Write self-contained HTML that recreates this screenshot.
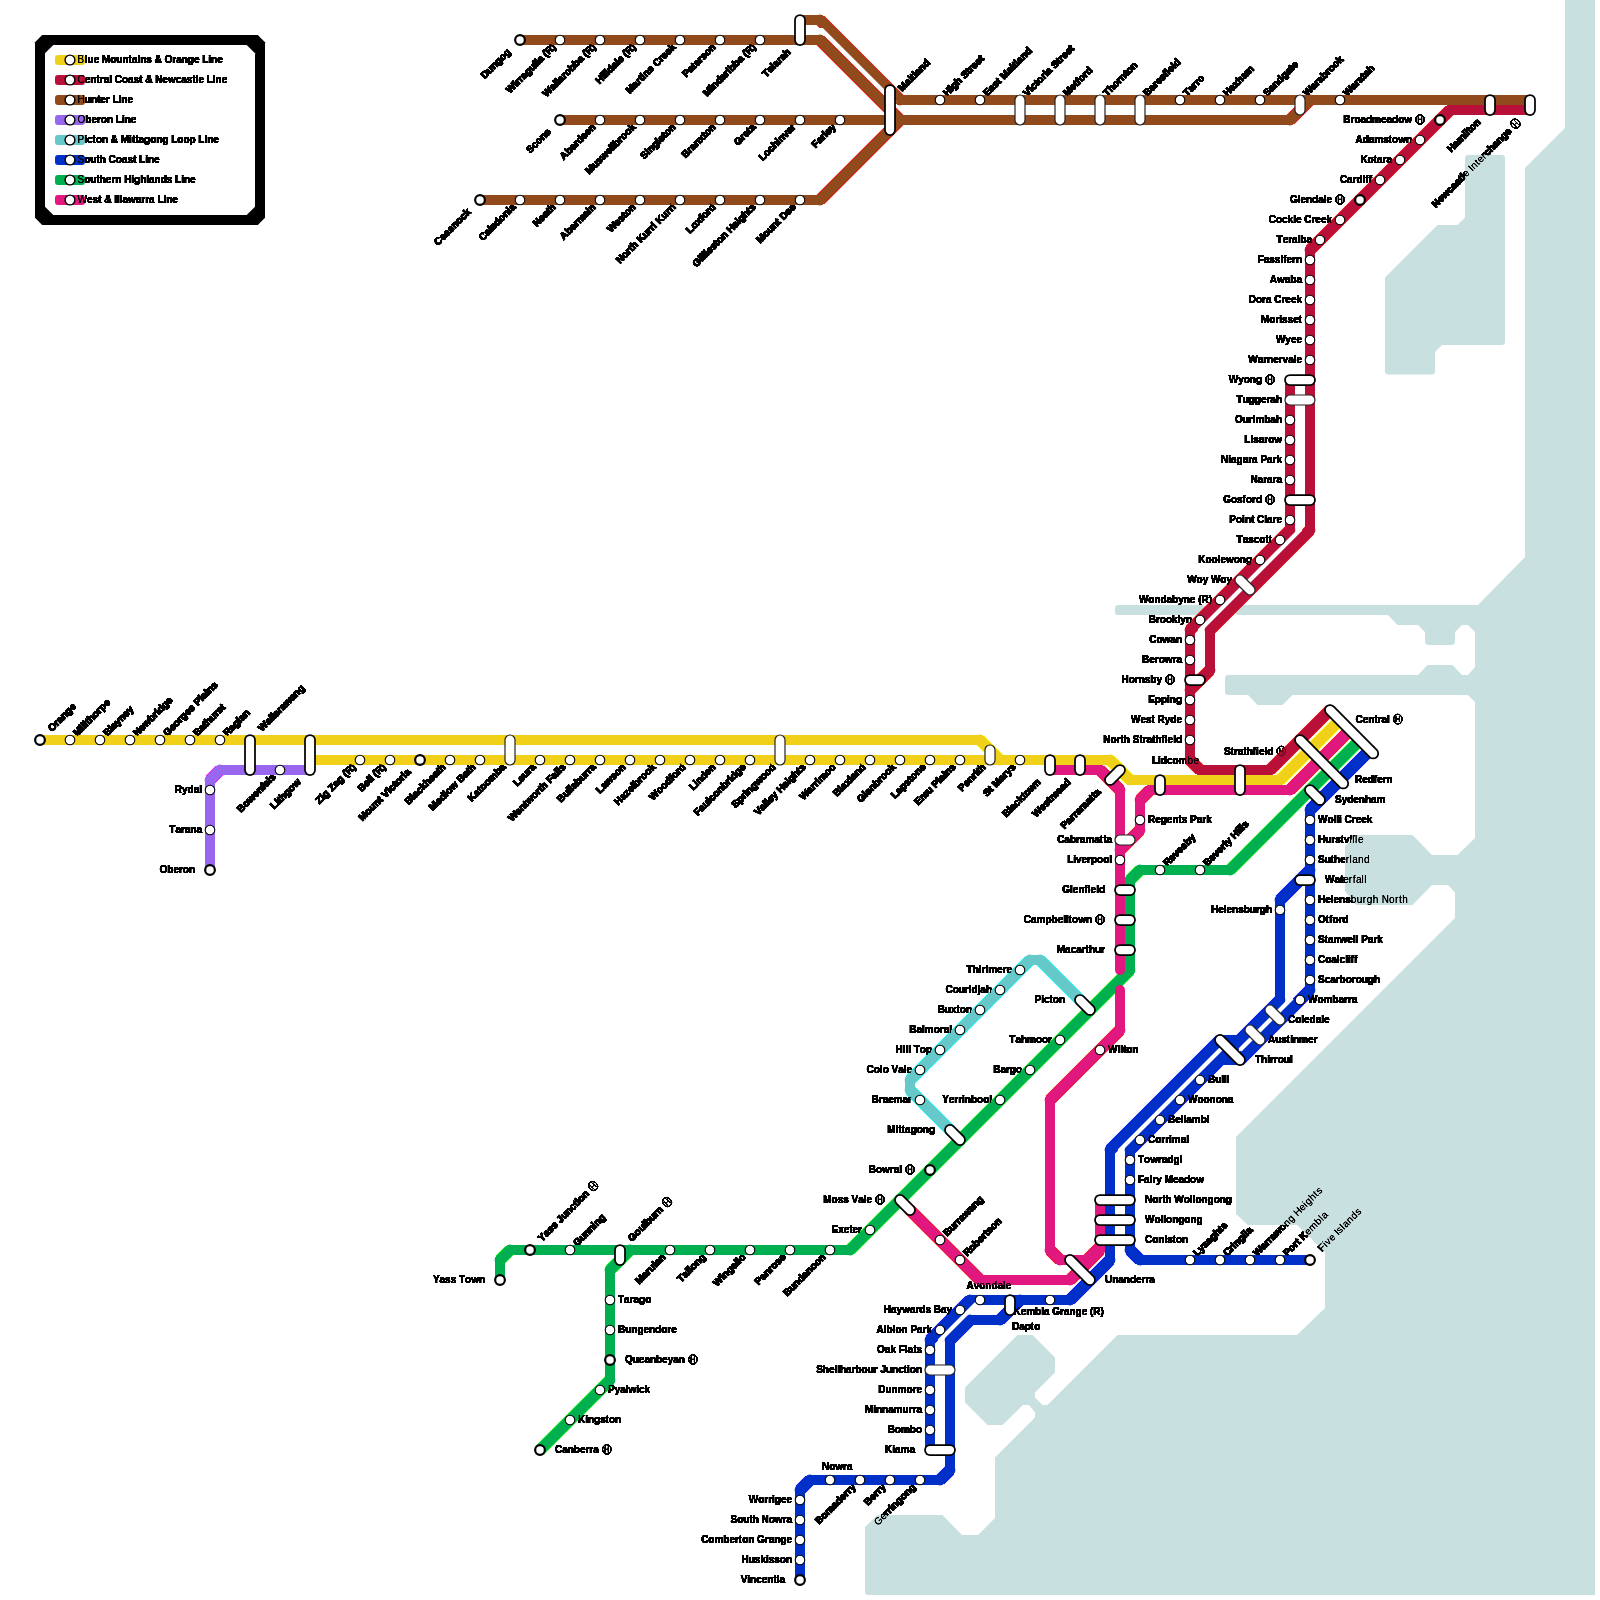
<!DOCTYPE html>
<html><head><meta charset="utf-8"><title>NSW TrainLink Intercity Map</title>
<style>html,body{margin:0;padding:0;background:#fff}svg{display:block}text{font-family:"Liberation Sans",sans-serif;font-size:10px;fill:#000}.s text{font-weight:bold}.s .r text{stroke:#000;stroke-width:.45px}.s .h{stroke:#000;stroke-width:.55px;fill:none}.s .h path{stroke-width:.5px}.f .h{stroke:#000;stroke-width:.6px;fill:none}.s text,.s .h{filter:url(#hard)}.s .r text,.s .r .h{filter:none}.s .w{filter:url(#hardr)}.f text{filter:url(#hard2)}.f .r text{filter:none}.f .w{filter:url(#hard2)}</style></head><body>
<svg width="1600" height="1600" viewBox="0 0 1600 1600">
<defs><filter id="hard" x="-5%" y="-25%" width="110%" height="150%" color-interpolation-filters="sRGB"><feComponentTransfer><feFuncA type="linear" slope="8" intercept="0"/></feComponentTransfer></filter><filter id="hardr" x="-10%" y="-10%" width="120%" height="120%" color-interpolation-filters="sRGB"><feComponentTransfer><feFuncA type="linear" slope="8" intercept="0"/></feComponentTransfer></filter><filter id="hard2" x="-5%" y="-25%" width="110%" height="150%" color-interpolation-filters="sRGB"><feComponentTransfer><feFuncA type="linear" slope="1.6" intercept="0"/></feComponentTransfer></filter></defs>
<rect width="1600" height="1600" fill="#fff"/>
<polygon points="42.2,35 257.8,35 265,42.2 265,217.8 257.8,225 42.2,225 35,217.8 35,42.2" fill="#000"/>
<polygon points="53.3,45 246.7,45 255,53.3 255,206.7 246.7,215 53.3,215 45,206.7 45,53.3" fill="#fff"/>
<g class="s">
<text x="77.6 84.8 87.57 93.66 99.2 101.98 110.28 116.37 122.46 128.56 131.88 137.42 140.19 146.28 151.83 154.6 161.8 164.57 172.32 176.2 181.75 187.84 193.93 199.47 202.24 208.34 211.11 217.2" y="63.1">Blue Mountains &amp; Orange Line</text>
<text x="77.6 84.8 90.34 96.43 99.75 103.63 109.17 111.95 114.72 121.92 128.01 133.55 139.09 142.41 145.19 152.38 155.16 162.35 167.9 175.65 181.2 186.74 192.28 195.6 198.38 203.92 206.69 212.78 215.55 221.65" y="83.1">Central Coast &amp; Newcastle Line</text>
<text x="77.6 84.8 90.89 96.98 100.3 105.85 109.72 112.49 118.59 121.36 127.45" y="103.1">Hunter Line</text>
<text x="77.6 85.36 91.45 96.99 100.87 106.96 113.05 115.82 121.92 124.69 130.78" y="123.1">Oberon Line</text>
<text x="77.6 84.25 87.02 92.56 95.88 101.98 108.07 110.84 118.04 120.81 129.11 131.89 135.21 138.53 144.07 150.16 156.25 162.34 168.44 171.21 177.3 183.39 189.48 195.58 198.35 204.44 207.21 213.3" y="143.1">Picton &amp; Mittagong Loop Line</text>
<text x="77.6 84.25 90.34 96.43 99.75 105.85 108.62 115.82 121.91 127.45 132.99 136.31 139.08 145.18 147.95 154.04" y="163.1">South Coast Line</text>
<text x="77.6 84.25 90.34 96.43 99.75 105.85 111.39 115.27 121.36 124.13 131.33 134.1 140.19 146.28 149.05 154.6 160.69 166.78 172.32 175.1 181.19 183.96 190.05" y="183.1">Southern Highlands Line</text>
<text x="77.6 87.01 92.55 98.1 101.42 104.19 111.39 114.16 116.93 119.7 122.47 128.02 135.77 141.32 145.2 149.07 154.62 157.39 163.48 166.25 172.34" y="203.1">West &amp; Illawarra Line</text>
<g class="w"><g class="r" transform="translate(520,40) rotate(-45)"><text x="-52.66 -45.46 -39.37 -33.28 -27.18 -21.09" y="2.8">Dungog</text></g></g>
<g class="w"><g class="r" transform="translate(560,40) rotate(-45)"><text x="-73.36 -63.95 -61.18 -57.3 -53.42 -47.88 -41.79 -35.7 -32.93 -30.15 -24.61 -21.84 -18.52 -11.32" y="2.8">Wirragulla (R)</text></g></g>
<g class="w"><g class="r" transform="translate(600,40) rotate(-45)"><text x="-78.35 -68.94 -63.39 -60.62 -57.85 -52.31 -48.43 -42.34 -36.25 -30.15 -24.61 -21.84 -18.52 -11.32" y="2.8">Wallarobba (R)</text></g></g>
<g class="w"><g class="r" transform="translate(640,40) rotate(-45)"><text x="-60.07 -52.87 -50.1 -47.33 -44.56 -38.47 -32.93 -30.15 -24.61 -21.84 -18.52 -11.32" y="2.8">Hilldale (R)</text></g></g>
<g class="w"><g class="r" transform="translate(680,40) rotate(-45)"><text x="-73.93 -65.63 -60.08 -56.2 -52.88 -50.11 -44.02 -38.48 -35.71 -28.51 -24.63 -19.09 -13.54" y="2.8">Martins Creek</text></g></g>
<g class="w"><g class="r" transform="translate(720,40) rotate(-45)"><text x="-50.66 -44.01 -38.47 -35.15 -29.6 -25.73 -20.18 -14.09" y="2.8">Paterson</text></g></g>
<g class="w"><g class="r" transform="translate(760,40) rotate(-45)"><text x="-77.79 -69.48 -66.71 -60.62 -54.53 -48.99 -45.11 -42.34 -36.25 -30.15 -24.61 -21.84 -18.52 -11.32" y="2.8">Mindaribba (R)</text></g></g>
<g class="w"><g class="r" transform="translate(800,40) rotate(-45)"><text x="-50.46 -44.37 -38.83 -36.06 -30.51 -26.63 -21.09" y="2.8">Telarah</text></g></g>
<g class="w"><g class="r" transform="translate(560,120) rotate(-45)"><text x="-44.92 -38.27 -32.73 -26.63 -20.54" y="2.8">Scone</text></g></g>
<g class="w"><g class="r" transform="translate(600,120) rotate(-45)"><text x="-53.98 -46.78 -40.69 -35.15 -31.27 -25.18 -19.63 -14.09" y="2.8">Aberdeen</text></g></g>
<g class="w"><g class="r" transform="translate(640,120) rotate(-45)"><text x="-74.48 -66.17 -60.08 -54.54 -46.78 -41.24 -38.47 -35.7 -29.6 -25.73 -19.63 -13.54" y="2.8">Muswellbrook</text></g></g>
<g class="w"><g class="r" transform="translate(680,120) rotate(-45)"><text x="-53.42 -46.77 -44 -37.91 -31.82 -29.05 -23.5 -20.18 -14.09" y="2.8">Singleton</text></g></g>
<g class="w"><g class="r" transform="translate(720,120) rotate(-45)"><text x="-51.76 -44.56 -40.68 -35.14 -29.05 -23.5 -20.18 -14.09" y="2.8">Branxton</text></g></g>
<g class="w"><g class="r" transform="translate(760,120) rotate(-45)"><text x="-34.04 -26.28 -22.41 -16.86 -13.54" y="2.8">Greta</text></g></g>
<g class="w"><g class="r" transform="translate(800,120) rotate(-45)"><text x="-55.65 -49.55 -43.46 -37.92 -31.83 -29.06 -22.96 -17.42 -11.88" y="2.8">Lochinvar</text></g></g>
<g class="w"><g class="r" transform="translate(840,120) rotate(-45)"><text x="-37.37 -31.28 -25.74 -21.86 -19.09 -13.54" y="2.8">Farley</text></g></g>
<g class="w"><g class="r" transform="translate(480,200) rotate(-45)"><text x="-62.1 -54.9 -49.36 -43.81 -38.27 -32.18 -26.09 -20.54" y="2.8">Cessnock</text></g></g>
<g class="w"><g class="r" transform="translate(520,200) rotate(-45)"><text x="-55.65 -48.45 -42.9 -40.13 -34.59 -28.5 -22.41 -16.31 -13.54" y="2.8">Caledonia</text></g></g>
<g class="w"><g class="r" transform="translate(560,200) rotate(-45)"><text x="-35.7 -28.5 -22.95 -17.41 -14.09" y="2.8">Neath</text></g></g>
<g class="w"><g class="r" transform="translate(600,200) rotate(-45)"><text x="-53.98 -46.78 -40.69 -35.15 -31.27 -22.41 -16.86 -14.09" y="2.8">Abermain</text></g></g>
<g class="w"><g class="r" transform="translate(640,200) rotate(-45)"><text x="-44 -34.59 -29.05 -23.5 -20.18 -14.09" y="2.8">Weston</text></g></g>
<g class="w"><g class="r" transform="translate(680,200) rotate(-45)"><text x="-87.76 -80.56 -74.47 -70.59 -67.27 -61.18 -58.41 -51.21 -45.12 -41.24 -37.36 -34.59 -31.82 -24.62 -18.53 -14.65 -10.77" y="2.8">North Kurri Kurri</text></g></g>
<g class="w"><g class="r" transform="translate(720,200) rotate(-45)"><text x="-45.11 -39.02 -32.92 -27.38 -24.06 -17.97 -14.09" y="2.8">Loxford</text></g></g>
<g class="w"><g class="r" transform="translate(760,200) rotate(-45)"><text x="-92.76 -85.01 -82.24 -79.46 -76.69 -73.92 -68.38 -62.84 -59.51 -53.42 -47.33 -44.56 -37.36 -31.82 -29.05 -22.96 -16.86 -13.54" y="2.8">Gillieston Heights</text></g></g>
<g class="w"><g class="r" transform="translate(800,200) rotate(-45)"><text x="-58.96 -50.65 -44.56 -38.47 -32.38 -29.06 -26.28 -19.09 -13.54" y="2.8">Mount Dee</text></g></g>
<g class="w"><g class="r" transform="translate(890,100) rotate(-45)"><text x="14.3 22.61 28.15 30.92 34.24 37.01 42.55 48.65" y="2.8">Maitland</text></g></g>
<g class="w"><g class="r" transform="translate(940,100) rotate(-45)"><text x="7.3 14.5 17.27 23.36 29.45 32.23 38.87 42.2 46.07 51.62 57.16" y="2.8">High Street</text></g></g>
<g class="w"><g class="r" transform="translate(980,100) rotate(-45)"><text x="7.3 13.95 19.49 25.04 28.36 31.13 39.43 44.98 47.75 51.07 53.84 59.38 65.47" y="2.8">East Maitland</text></g></g>
<g class="w"><g class="r" transform="translate(1020,100) rotate(-45)"><text x="7.3 13.95 16.72 22.26 25.58 31.68 35.55 38.33 43.87 46.64 53.29 56.61 60.49 66.03 71.58" y="2.8">Victoria Street</text></g></g>
<g class="w"><g class="r" transform="translate(1060,100) rotate(-45)"><text x="7.3 15.61 21.15 24.47 27.79 33.88 37.76" y="2.8">Metford</text></g></g>
<g class="w"><g class="r" transform="translate(1100,100) rotate(-45)"><text x="7.3 13.39 19.48 25.58 29.45 35.55 38.87 44.96" y="2.8">Thornton</text></g></g>
<g class="w"><g class="r" transform="translate(1140,100) rotate(-45)"><text x="7.3 14.5 20.04 23.92 29.46 35.01 38.33 41.1 46.64 49.41" y="2.8">Beresfield</text></g></g>
<g class="w"><g class="r" transform="translate(1180,100) rotate(-45)"><text x="7.3 13.39 18.93 22.81 26.69" y="2.8">Tarro</text></g></g>
<g class="w"><g class="r" transform="translate(1220,100) rotate(-45)"><text x="7.3 14.5 20.04 25.58 31.68 37.22" y="2.8">Hexham</text></g></g>
<g class="w"><g class="r" transform="translate(1260,100) rotate(-45)"><text x="7.3 13.95 19.49 25.58 31.68 37.77 43.31 46.63" y="2.8">Sandgate</text></g></g>
<g class="w"><g class="r" transform="translate(1300,100) rotate(-45)"><text x="7.3 16.71 22.25 26.13 31.68 37.77 41.65 47.74 53.83" y="2.8">Warabrook</text></g></g>
<g class="w"><g class="r" transform="translate(1340,100) rotate(-45)"><text x="7.3 16.71 22.25 26.13 31.68 35 40.54" y="2.8">Waratah</text></g></g>
<g class="w"><g class="r" transform="translate(1490,110) rotate(-45)"><text x="-57.65 -50.45 -44.91 -36.05 -33.28 -30.5 -27.18 -21.09" y="2.8">Hamilton</text></g></g>
<g class="w"><g class="r" transform="translate(1530,110) rotate(-45)"><g class="h" transform="translate(-20,-0.6)"><ellipse rx="4.25" ry="4.8"/><path d="M-1.6,-2.9V2.9M1.6,-2.9V2.9M-1.6,0H1.6"/></g><text x="-136.04 -128.85 -123.3 -115.55 -110 -104.46 -98.92 -95.6 -92.82 -87.28 -84.51 -81.74 -75.65 -72.33 -66.78 -62.9 -57.36 -51.27 -45.73 -39.63 -33.54" y="2.8">Newcastle Interchange</text></g></g>
<g class="h" transform="translate(1420,119.4)"><ellipse rx="4.25" ry="4.8"/><path d="M-1.6,-2.9V2.9M1.6,-2.9V2.9M-1.6,0H1.6"/></g><text x="1343.31 1350.51 1354.38 1360.48 1366.02 1372.11 1380.97 1386.52 1392.06 1398.15 1404.24" y="122.8">Broadmeadow</text>
<text x="1355.5 1362.7 1368.79 1374.33 1383.2 1388.74 1392.06 1398.15 1405.91" y="142.8">Adamstown</text>
<text x="1360.43 1367.62 1373.72 1377.04 1382.58 1386.46" y="162.8">Kotara</text>
<text x="1339.88 1347.07 1352.62 1356.5 1362.59 1365.36 1368.68" y="182.8">Cardiff</text>
<g class="h" transform="translate(1340,199.4)"><ellipse rx="4.25" ry="4.8"/><path d="M-1.6,-2.9V2.9M1.6,-2.9V2.9M-1.6,0H1.6"/></g><text x="1289.89 1297.64 1300.42 1305.96 1312.05 1318.14 1323.69 1326.46" y="202.8">Glendale</text>
<text x="1268.83 1276.03 1282.12 1287.66 1293.21 1295.98 1301.52 1304.29 1311.49 1315.37 1320.91 1326.46" y="222.8">Cockle Creek</text>
<text x="1276.54 1282.63 1288.17 1292.05 1297.59 1300.37 1306.46" y="242.8">Teralba</text>
<text x="1257.67 1263.77 1269.31 1274.85 1280.4 1283.17 1286.49 1292.03 1295.91" y="262.8">Fassifern</text>
<text x="1269.87 1277.07 1284.82 1290.37 1296.46" y="282.8">Awaba</text>
<text x="1248.81 1256.01 1262.1 1265.98 1271.52 1274.29 1281.49 1285.37 1290.91 1296.46" y="302.8">Dora Creek</text>
<text x="1261 1269.31 1275.4 1279.28 1282.05 1287.59 1293.14 1298.68" y="322.8">Morisset</text>
<text x="1275.96 1285.37 1290.91 1296.46" y="342.8">Wyee</text>
<text x="1248.25 1257.66 1263.21 1267.09 1273.18 1278.72 1282.6 1288.14 1293.69 1296.46" y="362.8">Warnervale</text>
<g class="h" transform="translate(1270,379.4)"><ellipse rx="4.25" ry="4.8"/><path d="M-1.6,-2.9V2.9M1.6,-2.9V2.9M-1.6,0H1.6"/></g><text x="1228.77 1238.18 1243.72 1249.82 1255.91" y="382.8">Wyong</text>
<text x="1236.58 1242.67 1248.76 1254.85 1260.94 1266.49 1270.37 1275.91" y="402.8">Tuggerah</text>
<text x="1234.91 1242.67 1248.76 1252.64 1255.41 1264.27 1270.37 1275.91" y="422.8">Ourimbah</text>
<text x="1244.32 1250.42 1253.19 1258.73 1264.27 1268.15 1274.24" y="442.8">Lisarow</text>
<text x="1221.04 1228.24 1231.01 1236.56 1242.65 1248.19 1252.07 1257.61 1260.39 1267.04 1272.58 1276.46" y="462.8">Niagara Park</text>
<text x="1250.42 1257.61 1263.16 1267.04 1272.58 1276.46" y="482.8">Narara</text>
<g class="h" transform="translate(1270,499.4)"><ellipse rx="4.25" ry="4.8"/><path d="M-1.6,-2.9V2.9M1.6,-2.9V2.9M-1.6,0H1.6"/></g><text x="1223.23 1230.98 1237.08 1242.62 1245.94 1252.03 1255.91" y="502.8">Gosford</text>
<text x="1229.37 1236.02 1242.11 1244.88 1250.97 1254.29 1257.07 1264.26 1267.04 1272.58 1276.46" y="522.8">Point Clare</text>
<text x="1236.55 1242.64 1248.18 1253.72 1259.27 1265.36 1268.68" y="542.8">Tascott</text>
<text x="1198.27 1205.47 1211.56 1217.65 1220.43 1225.97 1233.72 1239.82 1245.91" y="562.8">Koolewong</text>
<text x="1187.13 1196.55 1202.64 1208.18 1210.95 1220.37 1226.46" y="582.8">Woy Woy</text>
<text x="1138.89 1148.3 1154.39 1160.49 1166.58 1172.12 1178.21 1183.75 1189.85 1195.39 1198.16 1201.48 1208.68" y="602.8">Wondabyne (R)</text>
<text x="1148.79 1155.99 1159.87 1165.96 1172.05 1177.59 1180.37 1185.91" y="622.8">Brooklyn</text>
<text x="1149.32 1156.52 1162.61 1170.37 1175.91" y="642.8">Cowan</text>
<text x="1142.11 1149.31 1154.85 1158.73 1164.82 1172.58 1176.46" y="662.8">Berowra</text>
<g class="h" transform="translate(1170,679.4)"><ellipse rx="4.25" ry="4.8"/><path d="M-1.6,-2.9V2.9M1.6,-2.9V2.9M-1.6,0H1.6"/></g><text x="1121.56 1128.76 1134.85 1138.73 1144.82 1150.37 1156.46" y="682.8">Hornsby</text>
<text x="1148.21 1154.86 1160.95 1167.04 1169.82 1175.91" y="702.8">Epping</text>
<text x="1131.03 1140.45 1145.99 1151.53 1154.85 1157.62 1164.82 1170.37 1176.46" y="722.8">West Ryde</text>
<text x="1103.35 1110.55 1116.64 1120.52 1123.84 1129.93 1132.7 1139.35 1142.67 1146.55 1152.09 1155.41 1161.5 1164.82 1167.59 1173.14 1175.91" y="742.8">North Strathfield</text>
<g class="w"><g class="r" transform="translate(40,740) rotate(-45)"><text x="14.3 22.06 25.93 31.48 37.57 43.66" y="2.8">Orange</text></g></g>
<g class="w"><g class="r" transform="translate(70,740) rotate(-45)"><text x="7.3 15.61 18.38 21.15 23.92 27.24 33.33 39.42 43.3 49.39" y="2.8">Millthorpe</text></g></g>
<g class="w"><g class="r" transform="translate(100,740) rotate(-45)"><text x="7.3 14.5 17.27 22.81 28.36 34.45 39.99" y="2.8">Blayney</text></g></g>
<g class="w"><g class="r" transform="translate(130,740) rotate(-45)"><text x="7.3 14.5 20.04 27.8 33.89 37.77 40.54 46.63 52.72" y="2.8">Newbridge</text></g></g>
<g class="w"><g class="r" transform="translate(160,740) rotate(-45)"><text x="7.3 15.06 20.6 26.69 30.57 36.66 42.2 47.75 50.52 57.17 59.94 65.48 68.26 74.35" y="2.8">Georges Plains</text></g></g>
<g class="w"><g class="r" transform="translate(190,740) rotate(-45)"><text x="7.3 14.5 20.04 23.36 29.45 35.55 39.42 44.97" y="2.8">Bathurst</text></g></g>
<g class="w"><g class="r" transform="translate(220,740) rotate(-45)"><text x="7.3 14.5 20.04 26.13 28.9 34.45" y="2.8">Raglan</text></g></g>
<g class="w"><g class="r" transform="translate(250,740) rotate(-45)"><text x="14.3 23.71 29.26 32.03 34.8 40.34 44.22 49.76 57.52 63.06 69.15" y="2.8">Wallerawang</text></g></g>
<g class="w"><g class="r" transform="translate(310,770) rotate(-45)"><text x="-53.22 -47.12 -44.35 -41.03 -34.94 -28.85 -22.76" y="2.8">Lithgow</text></g></g>
<g class="w"><g class="r" transform="translate(280,770) rotate(-45)"><text x="-57.86 -50.66 -44.57 -36.81 -31.27 -25.18 -21.86 -16.31 -13.54" y="2.8">Bowenfels</text></g></g>
<text x="174.85 182.05 187.59 193.69 199.23" y="792.8">Rydal</text>
<text x="169.31 175.4 180.94 184.82 190.37 196.46" y="832.8">Tarana</text>
<text x="159.55 167.3 173.4 178.94 182.82 188.91" y="872.8">Oberon</text>
<g class="w"><g class="r" transform="translate(360,760) rotate(-45)"><text x="-60.06 -53.97 -51.2 -45.11 -42.34 -36.25 -30.7 -24.61 -21.84 -18.52 -11.32" y="2.8">Zig Zag (R)</text></g></g>
<g class="w"><g class="r" transform="translate(390,760) rotate(-45)"><text x="-42.89 -35.7 -30.15 -27.38 -24.61 -21.84 -18.52 -11.32" y="2.8">Bell (R)</text></g></g>
<g class="w"><g class="r" transform="translate(420,760) rotate(-45)"><text x="-84.24 -75.94 -69.84 -63.75 -57.66 -54.34 -51.57 -44.92 -42.15 -36.6 -33.28 -27.19 -23.31 -20.54" y="2.8">Mount Victoria</text></g></g>
<g class="w"><g class="r" transform="translate(450,760) rotate(-45)"><text x="-61.19 -53.99 -51.22 -45.68 -40.13 -34.59 -28.5 -22.95 -17.41 -14.09" y="2.8">Blackheath</text></g></g>
<g class="w"><g class="r" transform="translate(480,760) rotate(-45)"><text x="-69.48 -61.18 -55.64 -49.54 -46.77 -40.68 -32.92 -30.15 -22.95 -17.41 -14.09" y="2.8">Medlow Bath</text></g></g>
<g class="w"><g class="r" transform="translate(510,760) rotate(-45)"><text x="-56.74 -49.54 -44 -40.68 -34.59 -28.5 -19.63 -13.54" y="2.8">Katoomba</text></g></g>
<g class="w"><g class="r" transform="translate(540,760) rotate(-45)"><text x="-35.15 -29.06 -23.51 -17.42 -13.54" y="2.8">Leura</text></g></g>
<g class="w"><g class="r" transform="translate(570,760) rotate(-45)"><text x="-85 -75.59 -70.04 -63.95 -60.63 -52.87 -46.78 -42.9 -39.58 -33.49 -30.72 -24.63 -19.09 -16.31 -13.54" y="2.8">Wentworth Falls</text></g></g>
<g class="w"><g class="r" transform="translate(600,760) rotate(-45)"><text x="-57.86 -50.66 -44.57 -41.8 -39.03 -33.48 -27.39 -21.3 -17.42 -13.54" y="2.8">Bullaburra</text></g></g>
<g class="w"><g class="r" transform="translate(630,760) rotate(-45)"><text x="-45.12 -39.03 -33.48 -25.73 -20.18 -14.09" y="2.8">Lawson</text></g></g>
<g class="w"><g class="r" transform="translate(660,760) rotate(-45)"><text x="-61.74 -54.54 -49 -44.01 -38.47 -35.7 -29.6 -25.73 -19.63 -13.54" y="2.8">Hazelbrook</text></g></g>
<g class="w"><g class="r" transform="translate(690,760) rotate(-45)"><text x="-55.07 -45.66 -39.57 -33.47 -27.38 -24.06 -17.97 -14.09" y="2.8">Woodford</text></g></g>
<g class="w"><g class="r" transform="translate(720,760) rotate(-45)"><text x="-40.68 -34.59 -31.82 -25.73 -19.63 -14.09" y="2.8">Linden</text></g></g>
<g class="w"><g class="r" transform="translate(750,760) rotate(-45)"><text x="-76.69 -70.6 -65.06 -58.97 -56.19 -50.65 -44.56 -38.47 -32.38 -28.5 -25.73 -19.63 -13.54" y="2.8">Faulconbridge</text></g></g>
<g class="w"><g class="r" transform="translate(780,760) rotate(-45)"><text x="-65.61 -58.96 -52.87 -48.99 -46.22 -40.12 -34.03 -26.28 -20.18 -14.09" y="2.8">Springwood</text></g></g>
<g class="w"><g class="r" transform="translate(810,760) rotate(-45)"><text x="-76.15 -69.5 -63.96 -61.19 -58.42 -52.87 -47.33 -44.56 -37.36 -31.82 -29.05 -22.96 -16.86 -13.54" y="2.8">Valley Heights</text></g></g>
<g class="w"><g class="r" transform="translate(840,760) rotate(-45)"><text x="-54.53 -45.12 -39.57 -35.7 -31.82 -29.05 -20.18 -14.09" y="2.8">Warrimoo</text></g></g>
<g class="w"><g class="r" transform="translate(870,760) rotate(-45)"><text x="-49.55 -42.36 -39.58 -34.04 -28.5 -25.73 -20.18 -14.09" y="2.8">Blaxland</text></g></g>
<g class="w"><g class="r" transform="translate(900,760) rotate(-45)"><text x="-57.86 -50.1 -47.33 -41.79 -35.7 -29.6 -25.73 -19.63 -13.54" y="2.8">Glenbrook</text></g></g>
<g class="w"><g class="r" transform="translate(930,760) rotate(-45)"><text x="-52.32 -46.22 -40.68 -34.59 -29.05 -25.73 -19.63 -13.54" y="2.8">Lapstone</text></g></g>
<g class="w"><g class="r" transform="translate(960,760) rotate(-45)"><text x="-61.75 -55.1 -46.23 -40.14 -37.37 -30.72 -27.95 -22.41 -19.63 -13.54" y="2.8">Emu Plains</text></g></g>
<g class="w"><g class="r" transform="translate(990,760) rotate(-45)"><text x="-42.35 -35.7 -30.15 -24.06 -20.18 -17.41 -14.09" y="2.8">Penrith</text></g></g>
<g class="w"><g class="r" transform="translate(1020,760) rotate(-45)"><text x="-49.55 -42.9 -39.58 -36.81 -28.51 -22.96 -19.09 -13.54" y="2.8">St Marys</text></g></g>
<g class="w"><g class="r" transform="translate(1050,770) rotate(-45)"><text x="-64.86 -57.66 -54.89 -49.35 -43.8 -38.26 -34.94 -28.85 -21.09" y="2.8">Blacktown</text></g></g>
<g class="w"><g class="r" transform="translate(1080,770) rotate(-45)"><text x="-64.86 -55.45 -49.9 -44.36 -41.04 -32.18 -26.63 -21.09" y="2.8">Westmead</text></g></g>
<g class="w"><g class="r" transform="translate(1110,780) rotate(-45)"><text x="-67.08 -60.43 -54.89 -51.01 -47.13 -41.59 -32.73 -27.18 -23.86 -20.54" y="2.8">Parramatta</text></g></g>
<text x="1152 1158.09 1160.86 1166.96 1172.5 1178.59 1187.45 1193.54" y="764">Lidcombe</text>
<text x="1224 1230.65 1233.97 1237.85 1243.39 1246.71 1252.8 1256.12 1258.89 1264.44 1267.21" y="754.5">Strathfield</text><g class="h" transform="translate(1281.3,751.1)"><ellipse rx="4.25" ry="4.8"/><path d="M-1.6,-2.9V2.9M1.6,-2.9V2.9M-1.6,0H1.6"/></g>
<text x="1355.5 1362.7 1368.24 1374.33 1377.65 1381.53 1387.07" y="722.5">Central</text><g class="h" transform="translate(1397.85,719.1)"><ellipse rx="4.25" ry="4.8"/><path d="M-1.6,-2.9V2.9M1.6,-2.9V2.9M-1.6,0H1.6"/></g>
<text x="1355 1362.2 1367.74 1373.83 1377.15 1382.7 1386.57" y="782.8">Redfern</text>
<text x="1335 1341.65 1347.19 1353.28 1358.83 1364.92 1371.01 1376.55" y="802.8">Sydenham</text>
<text x="1148 1155.2 1160.74 1166.83 1172.38 1178.47 1181.79 1187.33 1190.1 1196.75 1202.3 1206.17" y="822.8">Regents Park</text>
<text x="1057.16 1064.35 1069.9 1075.99 1079.87 1085.41 1094.27 1099.82 1103.14 1106.46" y="842.8">Cabramatta</text>
<text x="1067.13 1073.22 1075.99 1081.53 1087.08 1090.95 1097.05 1103.14 1109.23" y="862.8">Liverpool</text>
<text x="1062.34 1070.1 1072.87 1078.41 1084.5 1087.82 1090.59 1096.14 1098.91" y="892.8">Glenfield</text>
<g class="h" transform="translate(1100,919.4)"><ellipse rx="4.25" ry="4.8"/><path d="M-1.6,-2.9V2.9M1.6,-2.9V2.9M-1.6,0H1.6"/></g><text x="1023.87 1031.06 1036.61 1045.47 1051.56 1057.65 1063.2 1065.97 1068.74 1072.06 1078.15 1085.91" y="922.8">Campbelltown</text>
<text x="1056.81 1065.11 1070.65 1076.2 1081.74 1085.62 1088.94 1095.03 1101.12" y="952.8">Macarthur</text>
<g class="w"><g class="r" transform="translate(1160,870) rotate(-45)"><text x="7.3 14.5 20.04 25.58 31.13 36.67 42.76" y="2.8">Revesby</text></g></g>
<g class="w"><g class="r" transform="translate(1200,870) rotate(-45)"><text x="7.3 14.5 20.04 25.58 31.13 35.01 37.78 43.32 46.09 53.29 56.06 58.83 61.61" y="2.8">Beverly Hills</text></g></g>
<text x="1318 1327.41 1333.5 1336.28 1339.05 1341.82 1344.59 1351.79 1355.67 1361.21 1366.75" y="822.8">Wolli Creek</text>
<text x="1318 1325.2 1331.29 1335.17 1340.71 1344.03 1349.57 1352.35 1355.12 1357.89" y="842.8">Hurstville</text>
<text x="1318 1324.65 1330.74 1334.06 1340.15 1345.7 1349.57 1352.35 1357.89 1363.98" y="862.8">Sutherland</text>
<text x="1325 1334.41 1339.95 1343.28 1348.82 1352.7 1356.02 1361.56 1364.33" y="882.8">Waterfall</text>
<text x="1318 1325.2 1330.74 1333.51 1339.06 1345.15 1350.69 1356.78 1362.87 1366.75 1372.84 1378.94 1381.71 1388.91 1395 1398.88 1402.2" y="902.8">Helensburgh North</text>
<text x="1318 1325.76 1329.08 1332.4 1338.49 1342.37" y="922.8">Otford</text>
<text x="1318 1324.65 1327.97 1333.51 1339.6 1347.36 1352.9 1355.68 1358.45 1361.22 1367.87 1373.41 1377.29" y="942.8">Stanwell Park</text>
<text x="1318 1325.2 1331.29 1336.83 1339.6 1345.15 1347.92 1350.69 1354.01" y="962.8">Coalcliff</text>
<text x="1318 1324.65 1330.19 1335.74 1339.61 1345.71 1351.8 1355.68 1361.77 1367.86 1373.95" y="982.8">Scarborough</text>
<text x="1308 1317.41 1323.5 1332.37 1338.46 1344 1347.88 1351.76" y="1002.8">Wombarra</text>
<text x="1288 1295.2 1301.29 1304.06 1309.6 1315.7 1321.24 1324.01" y="1022.8">Coledale</text>
<text x="1268 1275.2 1281.29 1286.83 1290.15 1292.92 1299.02 1307.88 1313.42" y="1042.8">Austinmer</text>
<text x="1255 1261.09 1267.18 1269.96 1273.83 1277.71 1283.8 1289.9" y="1062.8">Thirroul</text>
<text x="1211.06 1218.26 1223.81 1226.58 1232.12 1238.21 1243.75 1249.85 1255.94 1259.82 1265.91" y="912.8">Helensburgh</text>
<text x="1208 1215.2 1221.29 1224.06 1226.83" y="1082.8">Bulli</text>
<text x="1188 1197.41 1203.5 1209.6 1215.69 1221.78 1227.87" y="1102.8">Woonona</text>
<text x="1168 1175.2 1180.74 1183.51 1186.28 1191.83 1200.69 1206.78" y="1122.8">Bellambi</text>
<text x="1148 1155.2 1161.29 1165.17 1169.05 1171.82 1180.68 1186.22" y="1142.8">Corrimal</text>
<text x="1138 1144.09 1150.18 1157.94 1161.82 1167.36 1173.45 1179.54" y="1162.8">Towradgi</text>
<text x="1138 1144.09 1149.63 1152.41 1156.28 1161.83 1164.6 1172.9 1178.45 1183.99 1190.08 1196.17" y="1182.8">Fairy Meadow</text>
<text x="1145 1152.2 1158.29 1162.17 1165.49 1171.58 1174.35 1183.76 1189.86 1192.63 1195.4 1201.49 1207.58 1213.67 1219.77 1225.86" y="1202.8">North Wollongong</text>
<text x="1145 1154.41 1160.5 1163.28 1166.05 1172.14 1178.23 1184.32 1190.41 1196.51" y="1222.8">Wollongong</text>
<text x="1145 1152.2 1158.29 1164.38 1167.15 1172.7 1176.02 1182.11" y="1242.8">Coniston</text>
<g class="w"><g class="r" transform="translate(1190,1260) rotate(-45)"><text x="7.3 13.39 18.93 24.48 30.02 36.11 42.2 45.52" y="2.8">Lysaghts</text></g></g>
<g class="w"><g class="r" transform="translate(1220,1260) rotate(-45)"><text x="7.3 14.5 18.38 21.15 27.24 33.33 36.1 38.87" y="2.8">Cringila</text></g></g>
<g class="w"><g class="r" transform="translate(1250,1260) rotate(-45)"><text x="7.3 16.71 22.25 26.13 30.01 35.55 43.31 49.4 55.49 61.59 64.36 71.56 77.1 79.87 85.96 92.05 95.37" y="2.8">Warrawong Heights</text></g></g>
<g class="w"><g class="r" transform="translate(1280,1260) rotate(-45)"><text x="7.3 13.95 20.04 23.92 27.24 30.01 37.21 42.75 51.62 57.71 60.48" y="2.8">Port Kembla</text></g></g>
<g class="w"><g class="r" transform="translate(1310,1260) rotate(-45)"><text x="14.3 20.39 23.16 28.71 34.25 37.02 39.79 45.34 48.11 53.65 59.74 65.83" y="2.8">Five Islands</text></g></g>
<text x="1105 1112.2 1118.29 1123.83 1129.92 1136.02 1141.56 1145.44 1149.32" y="1282.8">Unanderra</text>
<text x="1013.5 1020.7 1026.24 1035.1 1041.2 1043.97 1049.51 1052.28 1060.04 1063.92 1069.46 1075.55 1081.64 1087.19 1089.96 1093.28 1100.48" y="1314.5">Kembla Grange (R)</text>
<text x="1012 1019.2 1024.74 1030.83 1034.15" y="1329.5">Dapto</text>
<text x="966.5 973.7 979.24 985.33 991.43 997.52 1003.06 1005.83" y="1289">Avondale</text>
<text x="883.85 891.04 896.59 902.13 909.89 915.43 919.31 925.4 930.94 933.72 940.91 946.46" y="1312.8">Haywards Bay</text>
<text x="876.6 883.8 886.57 892.66 895.43 901.52 907.61 910.39 917.04 922.58 926.46" y="1332.8">Albion Park</text>
<text x="877.12 884.87 890.42 895.96 898.73 904.82 907.59 913.14 916.46" y="1352.8">Oak Flats</text>
<text x="816.19 822.84 828.93 834.47 837.25 840.02 846.11 851.65 855.53 861.62 867.71 873.81 877.68 880.46 886 892.09 898.18 903.72 907.05 909.82 915.91" y="1372.8">Shellharbour Junction</text>
<text x="878.24 885.44 891.53 897.62 906.49 912.58 916.46" y="1392.8">Dunmore</text>
<text x="864.94 873.25 876.02 882.11 888.2 893.75 902.61 908.7 912.58 916.46" y="1412.8">Minnamurra</text>
<text x="887.66 894.86 900.95 909.82 915.91" y="1432.8">Bombo</text>
<text x="885.08 892.28 895.05 900.59 909.46" y="1452.8">Kiama</text>
<g class="w"><g class="r" transform="translate(920,1480) rotate(-45)"><text x="-62.29 -54.53 -48.99 -45.11 -41.23 -38.46 -32.37 -26.28 -20.18 -14.09" y="2.8">Gerringong</text></g></g>
<g class="w"><g class="r" transform="translate(890,1480) rotate(-45)"><text x="-34.04 -26.84 -21.3 -17.42 -13.54" y="2.8">Berry</text></g></g>
<g class="w"><g class="r" transform="translate(860,1480) rotate(-45)"><text x="-60.63 -53.43 -47.34 -38.48 -32.93 -26.84 -21.3 -17.42 -13.54" y="2.8">Bomaderry</text></g></g>
<text x="822 829.2 835.29 843.05 846.93" y="1470">Nowra</text>
<text x="748.79 758.2 764.29 768.17 772.05 774.82 780.91 786.46" y="1502.8">Worrigee</text>
<text x="730.52 737.16 743.26 749.35 752.67 758.76 761.53 768.73 774.82 782.58 786.46" y="1522.8">South Nowra</text>
<text x="701.15 708.35 714.44 723.31 729.4 734.94 738.82 742.14 748.23 754.32 757.1 764.85 768.73 774.27 780.37 786.46" y="1542.8">Comberton Grange</text>
<text x="741.58 748.78 754.87 760.42 765.96 768.73 774.27 779.82 785.91" y="1562.8">Huskisson</text>
<text x="740.67 747.32 750.1 756.19 761.73 767.27 773.37 776.69 779.46" y="1582.8">Vincentia</text>
<text x="1034.53 1041.18 1043.95 1049.5 1052.82 1058.91" y="1002.8">Picton</text>
<text x="1009.35 1015.44 1020.98 1027.08 1035.94 1042.03 1048.12" y="1042.8">Tahmoor</text>
<text x="993.2 1000.4 1005.94 1009.82 1015.91" y="1072.8">Bargo</text>
<text x="942.14 948.79 954.33 958.21 962.09 964.86 970.95 977.05 983.14 989.23" y="1102.8">Yerrinbool</text>
<text x="887.37 895.68 898.45 901.77 905.09 910.63 916.72 922.82 928.91" y="1132.8">Mittagong</text>
<g class="h" transform="translate(910,1169.4)"><ellipse rx="4.25" ry="4.8"/><path d="M-1.6,-2.9V2.9M1.6,-2.9V2.9M-1.6,0H1.6"/></g><text x="868.76 875.96 882.05 889.81 893.69 899.23" y="1172.8">Bowral</text>
<g class="h" transform="translate(880,1199.4)"><ellipse rx="4.25" ry="4.8"/><path d="M-1.6,-2.9V2.9M1.6,-2.9V2.9M-1.6,0H1.6"/></g><text x="823.24 831.54 837.63 843.18 848.72 851.49 858.14 863.69 866.46" y="1202.8">Moss Vale</text>
<text x="831.52 838.17 843.72 849.26 852.58 858.12" y="1232.8">Exeter</text>
<g class="w"><g class="r" transform="translate(830,1250) rotate(-45)"><text x="-63.38 -56.19 -50.09 -44 -37.91 -32.37 -26.28 -20.18 -14.09" y="2.8">Bundanoon</text></g></g>
<g class="w"><g class="r" transform="translate(790,1250) rotate(-45)"><text x="-47.34 -40.69 -35.15 -29.06 -25.18 -19.09 -13.54" y="2.8">Penrose</text></g></g>
<g class="w"><g class="r" transform="translate(750,1250) rotate(-45)"><text x="-49.54 -40.13 -37.36 -31.27 -25.18 -19.63 -16.86 -14.09" y="2.8">Wingello</text></g></g>
<g class="w"><g class="r" transform="translate(710,1250) rotate(-45)"><text x="-43.45 -37.36 -31.82 -29.05 -26.28 -20.18 -14.09" y="2.8">Tallong</text></g></g>
<g class="w"><g class="r" transform="translate(670,1250) rotate(-45)"><text x="-46.22 -37.92 -32.38 -28.5 -22.41 -19.63 -14.09" y="2.8">Marulan</text></g></g>
<g class="w"><g class="r" transform="translate(620,1250) rotate(-45)"><text x="14.3 22.06 28.15 34.24 37.01 43.1 49.2 53.07" y="2.8">Goulburn</text><g class="h" transform="translate(67.165,-0.6)"><ellipse rx="4.25" ry="4.8"/><path d="M-1.6,-2.9V2.9M1.6,-2.9V2.9M-1.6,0H1.6"/></g></g></g>
<g class="w"><g class="r" transform="translate(570,1250) rotate(-45)"><text x="7.3 15.06 21.15 27.24 33.33 36.1 42.2" y="2.8">Gunning</text></g></g>
<g class="w"><g class="r" transform="translate(530,1250) rotate(-45)"><text x="14.3 20.95 26.49 32.04 37.58 40.35 45.89 51.99 58.08 63.62 66.94 69.71 75.8" y="2.8">Yass Junction</text><g class="h" transform="translate(89.8966,-0.6)"><ellipse rx="4.25" ry="4.8"/><path d="M-1.6,-2.9V2.9M1.6,-2.9V2.9M-1.6,0H1.6"/></g></g></g>
<text x="432.92 439.57 445.11 450.65 456.2 458.97 465.06 471.15 478.91" y="1282.8">Yass Town</text>
<text x="618 624.09 629.63 633.51 639.06 645.15" y="1302.8">Tarago</text>
<text x="618 625.2 631.29 637.38 643.47 649.02 655.11 661.2 667.29 671.17" y="1332.8">Bungendore</text>
<text x="625 632.76 638.85 644.39 649.93 656.03 662.12 667.66 673.2 678.75" y="1362.8">Queanbeyan</text><g class="h" transform="translate(692.84,1359.4)"><ellipse rx="4.25" ry="4.8"/><path d="M-1.6,-2.9V2.9M1.6,-2.9V2.9M-1.6,0H1.6"/></g>
<text x="608 614.65 620.19 625.74 628.51 636.26 639.04 644.58" y="1392.8">Pyalwick</text>
<text x="578 585.2 587.97 594.06 600.15 605.7 609.02 615.11" y="1422.8">Kingston</text>
<text x="555 562.2 567.74 573.83 579.93 585.47 589.35 593.22" y="1452.8">Canberra</text><g class="h" transform="translate(606.768,1449.4)"><ellipse rx="4.25" ry="4.8"/><path d="M-1.6,-2.9V2.9M1.6,-2.9V2.9M-1.6,0H1.6"/></g>
<text x="966.57 972.66 978.75 981.52 985.4 988.17 997.04 1002.58 1006.46" y="972.8">Thirlmere</text>
<text x="945.47 952.67 958.76 964.85 968.73 971.5 977.59 980.37 985.91" y="992.8">Couridjah</text>
<text x="937.66 944.86 950.95 956.5 959.82 965.91" y="1012.8">Buxton</text>
<text x="909.34 916.54 922.08 924.85 933.72 939.81 943.69 949.23" y="1032.8">Balmoral</text>
<text x="895.44 902.64 905.41 908.18 910.95 913.72 919.82 925.91" y="1052.8">Hill Top</text>
<text x="866.57 873.77 879.86 882.63 888.72 891.49 898.14 903.69 906.46" y="1072.8">Colo Vale</text>
<text x="871.55 878.75 882.63 888.17 893.72 902.58 908.12" y="1102.8">Braemar</text>
<text x="1108 1117.41 1120.18 1122.96 1126.28 1132.37" y="1052.8">Wilton</text>
<g class="w"><g class="r" transform="translate(940,1240) rotate(-45)"><text x="7.3 14.5 20.59 24.47 28.35 33.89 41.65 47.19 53.28" y="2.8">Burrawang</text></g></g>
<g class="w"><g class="r" transform="translate(960,1260) rotate(-45)"><text x="7.3 14.5 20.59 26.68 32.23 36.1 39.42 44.97 51.06" y="2.8">Robertson</text></g></g>
</g>
<g fill="#c8e0e0">
<polygon points="1565,0 1565,128 1525,168 1525,557 1478,605 1237,605 1235,607 1235,613 1237,615 1388,615 1397.5,625 1418,625 1425,632 1425,643 1427.5,645 1452.5,645 1455,643 1455,632 1462,625 1468,625 1475,632 1475,667 1468,675 1462,675 1452.5,665 1427.5,665 1418,675 1227,675 1225,677 1225,693 1227,695 1248,695 1257.5,705 1282.5,705 1292.5,695 1468,695 1475,702 1475,838 1457.5,855 1432,855 1412.5,835 1356,835 1345,846 1345,891 1356,905 1412.5,905 1432,885 1448,885 1455,892.5 1455,918 1236,1137 1236,1214 1248,1225 1297,1225 1325,1252 1325,1308 1297,1335 1117.5,1335 1047.5,1405 1042.5,1405 1035,1397.5 1035,1392.5 1055,1372.5 1055,1357.5 1032.5,1335 1017.5,1335 965,1387.5 965,1402.5 987.5,1425 1002.5,1425 1023,1405 1029,1405 1035,1412.5 1035,1417.5 995,1457.5 995,1518 978,1535 962,1535 942.5,1515 877.5,1515 865,1527 865,1593 867,1595 1595,1595 1595,0" fill="#c8e0e0"/>
<polygon points="1467,155 1503,155 1505,157 1505,343 1503,345 1442,345 1435,352 1435,372.5 1433,374.5 1387,374.5 1385,372.5 1385,277.5 1437.5,225 1457.5,225 1465,217.5 1465,157" fill="#c8e0e0"/>
<rect x="1115" y="605" width="90" height="10" rx="3"/>
</g>
<g fill="none" stroke-width="10" stroke-linejoin="miter" stroke-linecap="butt">
<path d="M800,20 L820,20 L900,100 L1530,100" stroke="#914a1c"/>
<path d="M520,40 L820,40 L900,120" stroke="#914a1c"/>
<path d="M560,120 L1290,120 L1310,100" stroke="#914a1c"/>
<path d="M480,200 L820,200 L900,120" stroke="#914a1c"/>
<path d="M1530,110 L1450,110 L1310,250 L1310,530 L1210,630 L1210,670 L1190,690" stroke="#b81038"/>
<path d="M1290,380 L1290,530 L1190,630 L1190,760 L1200,770 L1270,770 L1330,710" stroke="#b81038"/>
<path d="M40,740 L980,740 L1000,760" stroke="#f0d018"/>
<path d="M310,760 L1110,760 L1130,780 L1280,780 L1340,720" stroke="#f0d018"/>
<path d="M310,770 L220,770 L210,780 L210,870" stroke="#9966ee"/>
<path d="M1050,770 L1100,770 L1120,790 L1120,970" stroke="#e01880"/>
<path d="M1350,730 L1290,790 L1150,790 L1140,800 L1140,830 L1120,850" stroke="#e01880"/>
<path d="M1120,990 L1120,1030 L1050,1100 L1050,1250 L1060,1260 L1087,1260 L1100,1247 L1100,1200" stroke="#e01880"/>
<path d="M910,1210 L980,1280 L1070,1280 L1100,1250" stroke="#e01880"/>
<path d="M1360,740 L1230,870 L1140,870 L1130,880 L1130,970 L850,1250 L510,1250 L500,1260 L500,1280" stroke="#00b050"/>
<path d="M630,1250 L610,1270 L610,1380 L540,1450" stroke="#00b050"/>
<path d="M1080,1000 L1040,960 L1030,960 L910,1080 L910,1090 L950,1130" stroke="#66c8c8"/>
<path d="M1370,750 L1310,810 L1310,990 L1240,1060 L1220,1060 L1130,1150 L1130,1250 L1140,1260 L1310,1260" stroke="#0030c8"/>
<path d="M1310,870 L1280,900 L1280,1000 L1240,1040 L1220,1040 L1110,1150 L1110,1260 L1070,1300 L970,1300 L930,1340 L930,1450" stroke="#0030c8"/>
<path d="M1240,1040 L1230,1050" stroke="#0030c8"/>
<path d="M1230,1050 L1220,1060" stroke="#0030c8"/>
<path d="M1020,1300 L1000,1320 L970,1320 L950,1340 L950,1470 L940,1480 L810,1480 L800,1490 L800,1580" stroke="#0030c8"/>
</g>
<g fill="none" stroke-linecap="butt" stroke-width="12.1">
<path d="M820,20 L900,100" stroke="#ff0000"/>
<path d="M820,40 L900,120" stroke="#ff0000"/>
<path d="M1290,120 L1310,100" stroke="#ff0000"/>
<path d="M820,200 L900,120" stroke="#ff0000"/>
<path d="M1450,110 L1310,250" stroke="#ff0000"/>
<path d="M1310,530 L1210,630" stroke="#ff0000"/>
<path d="M1210,670 L1190,690" stroke="#ff0000"/>
<path d="M1290,530 L1190,630" stroke="#ff0000"/>
<path d="M1190,760 L1200,770" stroke="#ff0000"/>
<path d="M1270,770 L1330,710" stroke="#ff0000"/>
<path d="M980,740 L1000,760" stroke="#ffff00"/>
<path d="M1110,760 L1130,780" stroke="#ffff00"/>
<path d="M1280,780 L1340,720" stroke="#ffff00"/>
<path d="M220,770 L210,780" stroke="#ff00ff"/>
<path d="M1100,770 L1120,790" stroke="#ff0000"/>
<path d="M1350,730 L1290,790" stroke="#ff0000"/>
<path d="M1150,790 L1140,800" stroke="#ff0000"/>
<path d="M1140,830 L1120,850" stroke="#ff0000"/>
<path d="M1120,1030 L1050,1100" stroke="#ff0000"/>
<path d="M1050,1250 L1060,1260" stroke="#ff0000"/>
<path d="M1087,1260 L1100,1247" stroke="#ff0000"/>
<path d="M910,1210 L980,1280" stroke="#ff0000"/>
<path d="M1070,1280 L1100,1250" stroke="#ff0000"/>
<path d="M1360,740 L1230,870" stroke="#00ff00"/>
<path d="M1140,870 L1130,880" stroke="#00ff00"/>
<path d="M1130,970 L850,1250" stroke="#00ff00"/>
<path d="M510,1250 L500,1260" stroke="#00ff00"/>
<path d="M630,1250 L610,1270" stroke="#00ff00"/>
<path d="M610,1380 L540,1450" stroke="#00ff00"/>
<path d="M1080,1000 L1040,960" stroke="#00ffff"/>
<path d="M1030,960 L910,1080" stroke="#00ffff"/>
<path d="M910,1090 L950,1130" stroke="#00ffff"/>
<path d="M1370,750 L1310,810" stroke="#0000ff"/>
<path d="M1310,990 L1240,1060" stroke="#0000ff"/>
<path d="M1220,1060 L1130,1150" stroke="#0000ff"/>
<path d="M1130,1250 L1140,1260" stroke="#0000ff"/>
<path d="M1310,870 L1280,900" stroke="#0000ff"/>
<path d="M1280,1000 L1240,1040" stroke="#0000ff"/>
<path d="M1220,1040 L1110,1150" stroke="#0000ff"/>
<path d="M1110,1260 L1070,1300" stroke="#0000ff"/>
<path d="M970,1300 L930,1340" stroke="#0000ff"/>
<path d="M1240,1040 L1230,1050" stroke="#0000ff"/>
<path d="M1230,1050 L1220,1060" stroke="#0000ff"/>
<path d="M1020,1300 L1000,1320" stroke="#0000ff"/>
<path d="M970,1320 L950,1340" stroke="#0000ff"/>
<path d="M950,1470 L940,1480" stroke="#0000ff"/>
<path d="M810,1480 L800,1490" stroke="#0000ff"/>
</g>
<g fill="none" stroke-linecap="round" stroke-width="10.8">
<path d="M820,20 L900,100" stroke="#914a1c"/>
<path d="M820,40 L900,120" stroke="#914a1c"/>
<path d="M1290,120 L1310,100" stroke="#914a1c"/>
<path d="M820,200 L900,120" stroke="#914a1c"/>
<path d="M1450,110 L1310,250" stroke="#b81038"/>
<path d="M1310,530 L1210,630" stroke="#b81038"/>
<path d="M1210,670 L1190,690" stroke="#b81038"/>
<path d="M1290,530 L1190,630" stroke="#b81038"/>
<path d="M1190,760 L1200,770" stroke="#b81038"/>
<path d="M1270,770 L1330,710" stroke="#b81038"/>
<path d="M980,740 L1000,760" stroke="#f0d018"/>
<path d="M1110,760 L1130,780" stroke="#f0d018"/>
<path d="M1280,780 L1340,720" stroke="#f0d018"/>
<path d="M220,770 L210,780" stroke="#9966ee"/>
<path d="M1100,770 L1120,790" stroke="#e01880"/>
<path d="M1350,730 L1290,790" stroke="#e01880"/>
<path d="M1150,790 L1140,800" stroke="#e01880"/>
<path d="M1140,830 L1120,850" stroke="#e01880"/>
<path d="M1120,1030 L1050,1100" stroke="#e01880"/>
<path d="M1050,1250 L1060,1260" stroke="#e01880"/>
<path d="M1087,1260 L1100,1247" stroke="#e01880"/>
<path d="M910,1210 L980,1280" stroke="#e01880"/>
<path d="M1070,1280 L1100,1250" stroke="#e01880"/>
<path d="M1360,740 L1230,870" stroke="#00b050"/>
<path d="M1140,870 L1130,880" stroke="#00b050"/>
<path d="M1130,970 L850,1250" stroke="#00b050"/>
<path d="M510,1250 L500,1260" stroke="#00b050"/>
<path d="M630,1250 L610,1270" stroke="#00b050"/>
<path d="M610,1380 L540,1450" stroke="#00b050"/>
<path d="M1080,1000 L1040,960" stroke="#66c8c8"/>
<path d="M1030,960 L910,1080" stroke="#66c8c8"/>
<path d="M910,1090 L950,1130" stroke="#66c8c8"/>
<path d="M1370,750 L1310,810" stroke="#0030c8"/>
<path d="M1310,990 L1240,1060" stroke="#0030c8"/>
<path d="M1220,1060 L1130,1150" stroke="#0030c8"/>
<path d="M1130,1250 L1140,1260" stroke="#0030c8"/>
<path d="M1310,870 L1280,900" stroke="#0030c8"/>
<path d="M1280,1000 L1240,1040" stroke="#0030c8"/>
<path d="M1220,1040 L1110,1150" stroke="#0030c8"/>
<path d="M1110,1260 L1070,1300" stroke="#0030c8"/>
<path d="M970,1300 L930,1340" stroke="#0030c8"/>
<path d="M1240,1040 L1230,1050" stroke="#0030c8"/>
<path d="M1230,1050 L1220,1060" stroke="#0030c8"/>
<path d="M1020,1300 L1000,1320" stroke="#0030c8"/>
<path d="M970,1320 L950,1340" stroke="#0030c8"/>
<path d="M950,1470 L940,1480" stroke="#0030c8"/>
<path d="M810,1480 L800,1490" stroke="#0030c8"/>
</g>
<g fill="none" stroke-width="10" stroke-linecap="butt">
<path d="M800,20 L820,20" stroke="#914a1c"/>
<path d="M900,100 L1530,100" stroke="#914a1c"/>
<path d="M520,40 L820,40" stroke="#914a1c"/>
<path d="M560,120 L1290,120" stroke="#914a1c"/>
<path d="M480,200 L820,200" stroke="#914a1c"/>
<path d="M1530,110 L1450,110" stroke="#b81038"/>
<path d="M1310,250 L1310,530" stroke="#b81038"/>
<path d="M1210,630 L1210,670" stroke="#b81038"/>
<path d="M1290,380 L1290,530" stroke="#b81038"/>
<path d="M1190,630 L1190,760" stroke="#b81038"/>
<path d="M1200,770 L1270,770" stroke="#b81038"/>
<path d="M40,740 L980,740" stroke="#f0d018"/>
<path d="M310,760 L1110,760" stroke="#f0d018"/>
<path d="M1130,780 L1280,780" stroke="#f0d018"/>
<path d="M310,770 L220,770" stroke="#9966ee"/>
<path d="M210,780 L210,870" stroke="#9966ee"/>
<path d="M1050,770 L1100,770" stroke="#e01880"/>
<path d="M1120,790 L1120,970" stroke="#e01880"/>
<path d="M1290,790 L1150,790" stroke="#e01880"/>
<path d="M1140,800 L1140,830" stroke="#e01880"/>
<path d="M1120,990 L1120,1030" stroke="#e01880"/>
<path d="M1050,1100 L1050,1250" stroke="#e01880"/>
<path d="M1060,1260 L1087,1260" stroke="#e01880"/>
<path d="M1100,1247 L1100,1200" stroke="#e01880"/>
<path d="M980,1280 L1070,1280" stroke="#e01880"/>
<path d="M1230,870 L1140,870" stroke="#00b050"/>
<path d="M1130,880 L1130,970" stroke="#00b050"/>
<path d="M850,1250 L510,1250" stroke="#00b050"/>
<path d="M500,1260 L500,1280" stroke="#00b050"/>
<path d="M610,1270 L610,1380" stroke="#00b050"/>
<path d="M1040,960 L1030,960" stroke="#66c8c8"/>
<path d="M910,1080 L910,1090" stroke="#66c8c8"/>
<path d="M1310,810 L1310,990" stroke="#0030c8"/>
<path d="M1240,1060 L1220,1060" stroke="#0030c8"/>
<path d="M1130,1150 L1130,1250" stroke="#0030c8"/>
<path d="M1140,1260 L1310,1260" stroke="#0030c8"/>
<path d="M1280,900 L1280,1000" stroke="#0030c8"/>
<path d="M1240,1040 L1220,1040" stroke="#0030c8"/>
<path d="M1110,1150 L1110,1260" stroke="#0030c8"/>
<path d="M1070,1300 L970,1300" stroke="#0030c8"/>
<path d="M930,1340 L930,1450" stroke="#0030c8"/>
<path d="M1000,1320 L970,1320" stroke="#0030c8"/>
<path d="M950,1340 L950,1470" stroke="#0030c8"/>
<path d="M940,1480 L810,1480" stroke="#0030c8"/>
<path d="M800,1490 L800,1580" stroke="#0030c8"/>
</g>
<g fill="none" stroke="#fff" stroke-width="4.2" stroke-linejoin="miter">
<path d="M1300,522 L1300,530 L1200,630 L1200,638"/>
<path d="M1292,998 L1240,1050"/>
<path d="M1222,1048 L1120,1150 L1120,1158"/>
<path d="M977,1303 L970,1310 L940,1340 L940,1348"/>
<path d="M818,30 L822,30 L895,103"/>
</g>
<circle cx="1120" cy="970" r="5" fill="#e01880"/><circle cx="1120" cy="990" r="5" fill="#e01880"/>
<rect x="55" y="55" width="30" height="10" rx="3" fill="#f0d018"/>
<circle cx="70" cy="60" r="4.9" fill="#fff" stroke="#000" stroke-width="1.4"/>
<rect x="55" y="75" width="30" height="10" rx="3" fill="#b81038"/>
<circle cx="70" cy="80" r="4.9" fill="#fff" stroke="#000" stroke-width="1.4"/>
<rect x="55" y="95" width="30" height="10" rx="3" fill="#914a1c"/>
<circle cx="70" cy="100" r="4.9" fill="#fff" stroke="#000" stroke-width="1.4"/>
<rect x="55" y="115" width="30" height="10" rx="3" fill="#9966ee"/>
<circle cx="70" cy="120" r="4.9" fill="#fff" stroke="#000" stroke-width="1.4"/>
<rect x="55" y="135" width="30" height="10" rx="3" fill="#66c8c8"/>
<circle cx="70" cy="140" r="4.9" fill="#fff" stroke="#000" stroke-width="1.4"/>
<rect x="55" y="155" width="30" height="10" rx="3" fill="#0030c8"/>
<circle cx="70" cy="160" r="4.9" fill="#fff" stroke="#000" stroke-width="1.4"/>
<rect x="55" y="175" width="30" height="10" rx="3" fill="#00b050"/>
<circle cx="70" cy="180" r="4.9" fill="#fff" stroke="#000" stroke-width="1.4"/>
<rect x="55" y="195" width="30" height="10" rx="3" fill="#e01880"/>
<circle cx="70" cy="200" r="4.9" fill="#fff" stroke="#000" stroke-width="1.4"/>
<line x1="800" y1="20" x2="800" y2="40" stroke="#000" stroke-width="11.75" stroke-linecap="round"/>
<line x1="800" y1="20" x2="800" y2="40" stroke="#fff" stroke-width="8.25" stroke-linecap="round"/>
<line x1="890" y1="90" x2="890" y2="130" stroke="#000" stroke-width="11.75" stroke-linecap="round"/>
<line x1="890" y1="90" x2="890" y2="130" stroke="#fff" stroke-width="8.25" stroke-linecap="round"/>
<line x1="1020" y1="100" x2="1020" y2="120" stroke="#222" stroke-width="11.2" stroke-linecap="round"/>
<line x1="1020" y1="100" x2="1020" y2="120" stroke="#fff" stroke-width="8.8" stroke-linecap="round"/>
<line x1="1060" y1="100" x2="1060" y2="120" stroke="#222" stroke-width="11.2" stroke-linecap="round"/>
<line x1="1060" y1="100" x2="1060" y2="120" stroke="#fff" stroke-width="8.8" stroke-linecap="round"/>
<line x1="1100" y1="100" x2="1100" y2="120" stroke="#222" stroke-width="11.2" stroke-linecap="round"/>
<line x1="1100" y1="100" x2="1100" y2="120" stroke="#fff" stroke-width="8.8" stroke-linecap="round"/>
<line x1="1140" y1="100" x2="1140" y2="120" stroke="#222" stroke-width="11.2" stroke-linecap="round"/>
<line x1="1140" y1="100" x2="1140" y2="120" stroke="#fff" stroke-width="8.8" stroke-linecap="round"/>
<line x1="1300" y1="100" x2="1300" y2="110" stroke="#222" stroke-width="11.2" stroke-linecap="round"/>
<line x1="1300" y1="100" x2="1300" y2="110" stroke="#fff" stroke-width="8.8" stroke-linecap="round"/>
<line x1="1490" y1="100" x2="1490" y2="110" stroke="#000" stroke-width="11.75" stroke-linecap="round"/>
<line x1="1490" y1="100" x2="1490" y2="110" stroke="#fff" stroke-width="8.25" stroke-linecap="round"/>
<line x1="1530" y1="100" x2="1530" y2="110" stroke="#000" stroke-width="11.75" stroke-linecap="round"/>
<line x1="1530" y1="100" x2="1530" y2="110" stroke="#fff" stroke-width="8.25" stroke-linecap="round"/>
<line x1="1290" y1="380" x2="1310" y2="380" stroke="#000" stroke-width="11.75" stroke-linecap="round"/>
<line x1="1290" y1="380" x2="1310" y2="380" stroke="#fff" stroke-width="8.25" stroke-linecap="round"/>
<line x1="1290" y1="400" x2="1310" y2="400" stroke="#222" stroke-width="11.2" stroke-linecap="round"/>
<line x1="1290" y1="400" x2="1310" y2="400" stroke="#fff" stroke-width="8.8" stroke-linecap="round"/>
<line x1="1290" y1="500" x2="1310" y2="500" stroke="#000" stroke-width="11.75" stroke-linecap="round"/>
<line x1="1290" y1="500" x2="1310" y2="500" stroke="#fff" stroke-width="8.25" stroke-linecap="round"/>
<line x1="1240" y1="580" x2="1250" y2="590" stroke="#222" stroke-width="11.2" stroke-linecap="round"/>
<line x1="1240" y1="580" x2="1250" y2="590" stroke="#fff" stroke-width="8.8" stroke-linecap="round"/>
<line x1="1190" y1="680" x2="1200" y2="680" stroke="#000" stroke-width="11.75" stroke-linecap="round"/>
<line x1="1190" y1="680" x2="1200" y2="680" stroke="#fff" stroke-width="8.25" stroke-linecap="round"/>
<line x1="250" y1="740" x2="250" y2="770" stroke="#000" stroke-width="11.75" stroke-linecap="round"/>
<line x1="250" y1="740" x2="250" y2="770" stroke="#fff" stroke-width="8.25" stroke-linecap="round"/>
<line x1="310" y1="740" x2="310" y2="770" stroke="#000" stroke-width="11.75" stroke-linecap="round"/>
<line x1="310" y1="740" x2="310" y2="770" stroke="#fff" stroke-width="8.25" stroke-linecap="round"/>
<line x1="510" y1="740" x2="510" y2="760" stroke="#222" stroke-width="11.2" stroke-linecap="round"/>
<line x1="510" y1="740" x2="510" y2="760" stroke="#fff" stroke-width="8.8" stroke-linecap="round"/>
<line x1="780" y1="740" x2="780" y2="760" stroke="#222" stroke-width="11.2" stroke-linecap="round"/>
<line x1="780" y1="740" x2="780" y2="760" stroke="#fff" stroke-width="8.8" stroke-linecap="round"/>
<line x1="990" y1="750" x2="990" y2="760" stroke="#222" stroke-width="11.2" stroke-linecap="round"/>
<line x1="990" y1="750" x2="990" y2="760" stroke="#fff" stroke-width="8.8" stroke-linecap="round"/>
<line x1="1050" y1="760" x2="1050" y2="770" stroke="#000" stroke-width="11.75" stroke-linecap="round"/>
<line x1="1050" y1="760" x2="1050" y2="770" stroke="#fff" stroke-width="8.25" stroke-linecap="round"/>
<line x1="1080" y1="760" x2="1080" y2="770" stroke="#000" stroke-width="11.75" stroke-linecap="round"/>
<line x1="1080" y1="760" x2="1080" y2="770" stroke="#fff" stroke-width="8.25" stroke-linecap="round"/>
<line x1="1110" y1="780" x2="1120" y2="770" stroke="#000" stroke-width="11.75" stroke-linecap="round"/>
<line x1="1110" y1="780" x2="1120" y2="770" stroke="#fff" stroke-width="8.25" stroke-linecap="round"/>
<line x1="1160" y1="780" x2="1160" y2="790" stroke="#000" stroke-width="11.75" stroke-linecap="round"/>
<line x1="1160" y1="780" x2="1160" y2="790" stroke="#fff" stroke-width="8.25" stroke-linecap="round"/>
<line x1="1240" y1="770" x2="1240" y2="790" stroke="#000" stroke-width="11.75" stroke-linecap="round"/>
<line x1="1240" y1="770" x2="1240" y2="790" stroke="#fff" stroke-width="8.25" stroke-linecap="round"/>
<line x1="1330" y1="710" x2="1373.2" y2="753.5" stroke="#000" stroke-width="11.75" stroke-linecap="round"/>
<line x1="1330" y1="710" x2="1373.2" y2="753.5" stroke="#fff" stroke-width="8.25" stroke-linecap="round"/>
<line x1="1300" y1="740" x2="1343.2" y2="783.5" stroke="#000" stroke-width="11.75" stroke-linecap="round"/>
<line x1="1300" y1="740" x2="1343.2" y2="783.5" stroke="#fff" stroke-width="8.25" stroke-linecap="round"/>
<line x1="1310" y1="790" x2="1320" y2="800" stroke="#000" stroke-width="11.75" stroke-linecap="round"/>
<line x1="1310" y1="790" x2="1320" y2="800" stroke="#fff" stroke-width="8.25" stroke-linecap="round"/>
<line x1="1120" y1="840" x2="1130" y2="840" stroke="#222" stroke-width="11.2" stroke-linecap="round"/>
<line x1="1120" y1="840" x2="1130" y2="840" stroke="#fff" stroke-width="8.8" stroke-linecap="round"/>
<line x1="1120" y1="890" x2="1130" y2="890" stroke="#000" stroke-width="11.75" stroke-linecap="round"/>
<line x1="1120" y1="890" x2="1130" y2="890" stroke="#fff" stroke-width="8.25" stroke-linecap="round"/>
<line x1="1120" y1="920" x2="1130" y2="920" stroke="#000" stroke-width="11.75" stroke-linecap="round"/>
<line x1="1120" y1="920" x2="1130" y2="920" stroke="#fff" stroke-width="8.25" stroke-linecap="round"/>
<line x1="1120" y1="950" x2="1130" y2="950" stroke="#000" stroke-width="11.75" stroke-linecap="round"/>
<line x1="1120" y1="950" x2="1130" y2="950" stroke="#fff" stroke-width="8.25" stroke-linecap="round"/>
<line x1="1300" y1="880" x2="1310" y2="880" stroke="#000" stroke-width="11.75" stroke-linecap="round"/>
<line x1="1300" y1="880" x2="1310" y2="880" stroke="#fff" stroke-width="8.25" stroke-linecap="round"/>
<line x1="1270" y1="1010" x2="1280" y2="1020" stroke="#222" stroke-width="11.2" stroke-linecap="round"/>
<line x1="1270" y1="1010" x2="1280" y2="1020" stroke="#fff" stroke-width="8.8" stroke-linecap="round"/>
<line x1="1250" y1="1030" x2="1260" y2="1040" stroke="#222" stroke-width="11.2" stroke-linecap="round"/>
<line x1="1250" y1="1030" x2="1260" y2="1040" stroke="#fff" stroke-width="8.8" stroke-linecap="round"/>
<line x1="1220" y1="1040" x2="1240" y2="1060" stroke="#000" stroke-width="11.75" stroke-linecap="round"/>
<line x1="1220" y1="1040" x2="1240" y2="1060" stroke="#fff" stroke-width="8.25" stroke-linecap="round"/>
<line x1="1100" y1="1200" x2="1130" y2="1200" stroke="#000" stroke-width="11.75" stroke-linecap="round"/>
<line x1="1100" y1="1200" x2="1130" y2="1200" stroke="#fff" stroke-width="8.25" stroke-linecap="round"/>
<line x1="1100" y1="1220" x2="1130" y2="1220" stroke="#000" stroke-width="11.75" stroke-linecap="round"/>
<line x1="1100" y1="1220" x2="1130" y2="1220" stroke="#fff" stroke-width="8.25" stroke-linecap="round"/>
<line x1="1100" y1="1240" x2="1130" y2="1240" stroke="#000" stroke-width="11.75" stroke-linecap="round"/>
<line x1="1100" y1="1240" x2="1130" y2="1240" stroke="#fff" stroke-width="8.25" stroke-linecap="round"/>
<line x1="1070" y1="1260" x2="1090" y2="1280" stroke="#000" stroke-width="11.75" stroke-linecap="round"/>
<line x1="1070" y1="1260" x2="1090" y2="1280" stroke="#fff" stroke-width="8.25" stroke-linecap="round"/>
<line x1="1010" y1="1300" x2="1010" y2="1310" stroke="#000" stroke-width="11.75" stroke-linecap="round"/>
<line x1="1010" y1="1300" x2="1010" y2="1310" stroke="#fff" stroke-width="8.25" stroke-linecap="round"/>
<line x1="930" y1="1370" x2="950" y2="1370" stroke="#222" stroke-width="11.2" stroke-linecap="round"/>
<line x1="930" y1="1370" x2="950" y2="1370" stroke="#fff" stroke-width="8.8" stroke-linecap="round"/>
<line x1="930" y1="1450" x2="950" y2="1450" stroke="#000" stroke-width="11.75" stroke-linecap="round"/>
<line x1="930" y1="1450" x2="950" y2="1450" stroke="#fff" stroke-width="8.25" stroke-linecap="round"/>
<line x1="1080" y1="1000" x2="1090" y2="1010" stroke="#000" stroke-width="11.75" stroke-linecap="round"/>
<line x1="1080" y1="1000" x2="1090" y2="1010" stroke="#fff" stroke-width="8.25" stroke-linecap="round"/>
<line x1="950" y1="1130" x2="960" y2="1140" stroke="#000" stroke-width="11.75" stroke-linecap="round"/>
<line x1="950" y1="1130" x2="960" y2="1140" stroke="#fff" stroke-width="8.25" stroke-linecap="round"/>
<line x1="900" y1="1200" x2="910" y2="1210" stroke="#000" stroke-width="11.75" stroke-linecap="round"/>
<line x1="900" y1="1200" x2="910" y2="1210" stroke="#fff" stroke-width="8.25" stroke-linecap="round"/>
<line x1="620" y1="1250" x2="620" y2="1260" stroke="#000" stroke-width="11.75" stroke-linecap="round"/>
<line x1="620" y1="1250" x2="620" y2="1260" stroke="#fff" stroke-width="8.25" stroke-linecap="round"/>
<circle cx="520" cy="40" r="4.85" fill="#fff" stroke="#000" stroke-width="2.2"/>
<circle cx="560" cy="40" r="4.8" fill="#fff" stroke="#000" stroke-width="1.1"/>
<circle cx="600" cy="40" r="4.8" fill="#fff" stroke="#000" stroke-width="1.1"/>
<circle cx="640" cy="40" r="4.8" fill="#fff" stroke="#000" stroke-width="1.1"/>
<circle cx="680" cy="40" r="4.8" fill="#fff" stroke="#000" stroke-width="1.1"/>
<circle cx="720" cy="40" r="4.8" fill="#fff" stroke="#000" stroke-width="1.1"/>
<circle cx="760" cy="40" r="4.8" fill="#fff" stroke="#000" stroke-width="1.1"/>
<circle cx="560" cy="120" r="4.85" fill="#fff" stroke="#000" stroke-width="2.2"/>
<circle cx="600" cy="120" r="4.8" fill="#fff" stroke="#000" stroke-width="1.1"/>
<circle cx="640" cy="120" r="4.8" fill="#fff" stroke="#000" stroke-width="1.1"/>
<circle cx="680" cy="120" r="4.8" fill="#fff" stroke="#000" stroke-width="1.1"/>
<circle cx="720" cy="120" r="4.8" fill="#fff" stroke="#000" stroke-width="1.1"/>
<circle cx="760" cy="120" r="4.8" fill="#fff" stroke="#000" stroke-width="1.1"/>
<circle cx="800" cy="120" r="4.8" fill="#fff" stroke="#000" stroke-width="1.1"/>
<circle cx="840" cy="120" r="4.8" fill="#fff" stroke="#000" stroke-width="1.1"/>
<circle cx="480" cy="200" r="4.85" fill="#fff" stroke="#000" stroke-width="2.2"/>
<circle cx="520" cy="200" r="4.8" fill="#fff" stroke="#000" stroke-width="1.1"/>
<circle cx="560" cy="200" r="4.8" fill="#fff" stroke="#000" stroke-width="1.1"/>
<circle cx="600" cy="200" r="4.8" fill="#fff" stroke="#000" stroke-width="1.1"/>
<circle cx="640" cy="200" r="4.8" fill="#fff" stroke="#000" stroke-width="1.1"/>
<circle cx="680" cy="200" r="4.8" fill="#fff" stroke="#000" stroke-width="1.1"/>
<circle cx="720" cy="200" r="4.8" fill="#fff" stroke="#000" stroke-width="1.1"/>
<circle cx="760" cy="200" r="4.8" fill="#fff" stroke="#000" stroke-width="1.1"/>
<circle cx="800" cy="200" r="4.8" fill="#fff" stroke="#000" stroke-width="1.1"/>
<circle cx="940" cy="100" r="4.8" fill="#fff" stroke="#000" stroke-width="1.1"/>
<circle cx="980" cy="100" r="4.8" fill="#fff" stroke="#000" stroke-width="1.1"/>
<circle cx="1180" cy="100" r="4.8" fill="#fff" stroke="#000" stroke-width="1.1"/>
<circle cx="1220" cy="100" r="4.8" fill="#fff" stroke="#000" stroke-width="1.1"/>
<circle cx="1260" cy="100" r="4.8" fill="#fff" stroke="#000" stroke-width="1.1"/>
<circle cx="1340" cy="100" r="4.8" fill="#fff" stroke="#000" stroke-width="1.1"/>
<circle cx="1440" cy="120" r="4.85" fill="#fff" stroke="#000" stroke-width="2.2"/>
<circle cx="1420" cy="140" r="4.8" fill="#fff" stroke="#000" stroke-width="1.1"/>
<circle cx="1400" cy="160" r="4.8" fill="#fff" stroke="#000" stroke-width="1.1"/>
<circle cx="1380" cy="180" r="4.8" fill="#fff" stroke="#000" stroke-width="1.1"/>
<circle cx="1360" cy="200" r="4.85" fill="#fff" stroke="#000" stroke-width="2.2"/>
<circle cx="1340" cy="220" r="4.8" fill="#fff" stroke="#000" stroke-width="1.1"/>
<circle cx="1320" cy="240" r="4.8" fill="#fff" stroke="#000" stroke-width="1.1"/>
<circle cx="1310" cy="260" r="4.8" fill="#fff" stroke="#000" stroke-width="1.1"/>
<circle cx="1310" cy="280" r="4.8" fill="#fff" stroke="#000" stroke-width="1.1"/>
<circle cx="1310" cy="300" r="4.8" fill="#fff" stroke="#000" stroke-width="1.1"/>
<circle cx="1310" cy="320" r="4.8" fill="#fff" stroke="#000" stroke-width="1.1"/>
<circle cx="1310" cy="340" r="4.8" fill="#fff" stroke="#000" stroke-width="1.1"/>
<circle cx="1310" cy="360" r="4.8" fill="#fff" stroke="#000" stroke-width="1.1"/>
<circle cx="1290" cy="420" r="4.8" fill="#fff" stroke="#000" stroke-width="1.1"/>
<circle cx="1290" cy="440" r="4.8" fill="#fff" stroke="#000" stroke-width="1.1"/>
<circle cx="1290" cy="460" r="4.8" fill="#fff" stroke="#000" stroke-width="1.1"/>
<circle cx="1290" cy="480" r="4.8" fill="#fff" stroke="#000" stroke-width="1.1"/>
<circle cx="1290" cy="520" r="4.8" fill="#fff" stroke="#000" stroke-width="1.1"/>
<circle cx="1280" cy="540" r="4.8" fill="#fff" stroke="#000" stroke-width="1.1"/>
<circle cx="1260" cy="560" r="4.8" fill="#fff" stroke="#000" stroke-width="1.1"/>
<circle cx="1220" cy="600" r="4.8" fill="#fff" stroke="#000" stroke-width="1.1"/>
<circle cx="1200" cy="620" r="4.8" fill="#fff" stroke="#000" stroke-width="1.1"/>
<circle cx="1190" cy="640" r="4.8" fill="#fff" stroke="#000" stroke-width="1.1"/>
<circle cx="1190" cy="660" r="4.8" fill="#fff" stroke="#000" stroke-width="1.1"/>
<circle cx="1190" cy="700" r="4.8" fill="#fff" stroke="#000" stroke-width="1.1"/>
<circle cx="1190" cy="720" r="4.8" fill="#fff" stroke="#000" stroke-width="1.1"/>
<circle cx="1190" cy="740" r="4.8" fill="#fff" stroke="#000" stroke-width="1.1"/>
<circle cx="40" cy="740" r="4.85" fill="#fff" stroke="#000" stroke-width="2.2"/>
<circle cx="70" cy="740" r="4.8" fill="#fff" stroke="#000" stroke-width="1.1"/>
<circle cx="100" cy="740" r="4.8" fill="#fff" stroke="#000" stroke-width="1.1"/>
<circle cx="130" cy="740" r="4.8" fill="#fff" stroke="#000" stroke-width="1.1"/>
<circle cx="160" cy="740" r="4.8" fill="#fff" stroke="#000" stroke-width="1.1"/>
<circle cx="190" cy="740" r="4.8" fill="#fff" stroke="#000" stroke-width="1.1"/>
<circle cx="220" cy="740" r="4.8" fill="#fff" stroke="#000" stroke-width="1.1"/>
<circle cx="280" cy="770" r="4.8" fill="#fff" stroke="#000" stroke-width="1.1"/>
<circle cx="210" cy="790" r="4.8" fill="#fff" stroke="#000" stroke-width="1.1"/>
<circle cx="210" cy="830" r="4.8" fill="#fff" stroke="#000" stroke-width="1.1"/>
<circle cx="210" cy="870" r="4.85" fill="#fff" stroke="#000" stroke-width="2.2"/>
<circle cx="360" cy="760" r="4.8" fill="#fff" stroke="#000" stroke-width="1.1"/>
<circle cx="390" cy="760" r="4.8" fill="#fff" stroke="#000" stroke-width="1.1"/>
<circle cx="420" cy="760" r="4.85" fill="#fff" stroke="#000" stroke-width="2.2"/>
<circle cx="450" cy="760" r="4.8" fill="#fff" stroke="#000" stroke-width="1.1"/>
<circle cx="480" cy="760" r="4.8" fill="#fff" stroke="#000" stroke-width="1.1"/>
<circle cx="540" cy="760" r="4.8" fill="#fff" stroke="#000" stroke-width="1.1"/>
<circle cx="570" cy="760" r="4.8" fill="#fff" stroke="#000" stroke-width="1.1"/>
<circle cx="600" cy="760" r="4.8" fill="#fff" stroke="#000" stroke-width="1.1"/>
<circle cx="630" cy="760" r="4.8" fill="#fff" stroke="#000" stroke-width="1.1"/>
<circle cx="660" cy="760" r="4.8" fill="#fff" stroke="#000" stroke-width="1.1"/>
<circle cx="690" cy="760" r="4.8" fill="#fff" stroke="#000" stroke-width="1.1"/>
<circle cx="720" cy="760" r="4.8" fill="#fff" stroke="#000" stroke-width="1.1"/>
<circle cx="750" cy="760" r="4.8" fill="#fff" stroke="#000" stroke-width="1.1"/>
<circle cx="810" cy="760" r="4.8" fill="#fff" stroke="#000" stroke-width="1.1"/>
<circle cx="840" cy="760" r="4.8" fill="#fff" stroke="#000" stroke-width="1.1"/>
<circle cx="870" cy="760" r="4.8" fill="#fff" stroke="#000" stroke-width="1.1"/>
<circle cx="900" cy="760" r="4.8" fill="#fff" stroke="#000" stroke-width="1.1"/>
<circle cx="930" cy="760" r="4.8" fill="#fff" stroke="#000" stroke-width="1.1"/>
<circle cx="960" cy="760" r="4.8" fill="#fff" stroke="#000" stroke-width="1.1"/>
<circle cx="1020" cy="760" r="4.8" fill="#fff" stroke="#000" stroke-width="1.1"/>
<circle cx="1140" cy="820" r="4.8" fill="#fff" stroke="#000" stroke-width="1.1"/>
<circle cx="1120" cy="860" r="4.8" fill="#fff" stroke="#000" stroke-width="1.1"/>
<circle cx="1160" cy="870" r="4.8" fill="#fff" stroke="#000" stroke-width="1.1"/>
<circle cx="1200" cy="870" r="4.8" fill="#fff" stroke="#000" stroke-width="1.1"/>
<circle cx="1310" cy="820" r="4.8" fill="#fff" stroke="#000" stroke-width="1.1"/>
<circle cx="1310" cy="840" r="4.8" fill="#fff" stroke="#000" stroke-width="1.1"/>
<circle cx="1310" cy="860" r="4.8" fill="#fff" stroke="#000" stroke-width="1.1"/>
<circle cx="1310" cy="900" r="4.8" fill="#fff" stroke="#000" stroke-width="1.1"/>
<circle cx="1310" cy="920" r="4.8" fill="#fff" stroke="#000" stroke-width="1.1"/>
<circle cx="1310" cy="940" r="4.8" fill="#fff" stroke="#000" stroke-width="1.1"/>
<circle cx="1310" cy="960" r="4.8" fill="#fff" stroke="#000" stroke-width="1.1"/>
<circle cx="1310" cy="980" r="4.8" fill="#fff" stroke="#000" stroke-width="1.1"/>
<circle cx="1300" cy="1000" r="4.8" fill="#fff" stroke="#000" stroke-width="1.1"/>
<circle cx="1280" cy="910" r="4.8" fill="#fff" stroke="#000" stroke-width="1.1"/>
<circle cx="1200" cy="1080" r="4.8" fill="#fff" stroke="#000" stroke-width="1.1"/>
<circle cx="1180" cy="1100" r="4.8" fill="#fff" stroke="#000" stroke-width="1.1"/>
<circle cx="1160" cy="1120" r="4.8" fill="#fff" stroke="#000" stroke-width="1.1"/>
<circle cx="1140" cy="1140" r="4.8" fill="#fff" stroke="#000" stroke-width="1.1"/>
<circle cx="1130" cy="1160" r="4.8" fill="#fff" stroke="#000" stroke-width="1.1"/>
<circle cx="1130" cy="1180" r="4.8" fill="#fff" stroke="#000" stroke-width="1.1"/>
<circle cx="1190" cy="1260" r="4.8" fill="#fff" stroke="#000" stroke-width="1.1"/>
<circle cx="1220" cy="1260" r="4.8" fill="#fff" stroke="#000" stroke-width="1.1"/>
<circle cx="1250" cy="1260" r="4.8" fill="#fff" stroke="#000" stroke-width="1.1"/>
<circle cx="1280" cy="1260" r="4.8" fill="#fff" stroke="#000" stroke-width="1.1"/>
<circle cx="1310" cy="1260" r="4.85" fill="#fff" stroke="#000" stroke-width="2.2"/>
<circle cx="1050" cy="1300" r="4.8" fill="#fff" stroke="#000" stroke-width="1.1"/>
<circle cx="980" cy="1300" r="4.8" fill="#fff" stroke="#000" stroke-width="1.1"/>
<circle cx="960" cy="1310" r="4.8" fill="#fff" stroke="#000" stroke-width="1.1"/>
<circle cx="940" cy="1330" r="4.8" fill="#fff" stroke="#000" stroke-width="1.1"/>
<circle cx="930" cy="1350" r="4.8" fill="#fff" stroke="#000" stroke-width="1.1"/>
<circle cx="930" cy="1390" r="4.8" fill="#fff" stroke="#000" stroke-width="1.1"/>
<circle cx="930" cy="1410" r="4.8" fill="#fff" stroke="#000" stroke-width="1.1"/>
<circle cx="930" cy="1430" r="4.8" fill="#fff" stroke="#000" stroke-width="1.1"/>
<circle cx="920" cy="1480" r="4.8" fill="#fff" stroke="#000" stroke-width="1.1"/>
<circle cx="890" cy="1480" r="4.8" fill="#fff" stroke="#000" stroke-width="1.1"/>
<circle cx="860" cy="1480" r="4.8" fill="#fff" stroke="#000" stroke-width="1.1"/>
<circle cx="830" cy="1480" r="4.8" fill="#fff" stroke="#000" stroke-width="1.1"/>
<circle cx="800" cy="1500" r="4.8" fill="#fff" stroke="#000" stroke-width="1.1"/>
<circle cx="800" cy="1520" r="4.8" fill="#fff" stroke="#000" stroke-width="1.1"/>
<circle cx="800" cy="1540" r="4.8" fill="#fff" stroke="#000" stroke-width="1.1"/>
<circle cx="800" cy="1560" r="4.8" fill="#fff" stroke="#000" stroke-width="1.1"/>
<circle cx="800" cy="1580" r="4.85" fill="#fff" stroke="#000" stroke-width="2.2"/>
<circle cx="1060" cy="1040" r="4.8" fill="#fff" stroke="#000" stroke-width="1.1"/>
<circle cx="1030" cy="1070" r="4.8" fill="#fff" stroke="#000" stroke-width="1.1"/>
<circle cx="1000" cy="1100" r="4.8" fill="#fff" stroke="#000" stroke-width="1.1"/>
<circle cx="930" cy="1170" r="4.85" fill="#fff" stroke="#000" stroke-width="2.2"/>
<circle cx="870" cy="1230" r="4.8" fill="#fff" stroke="#000" stroke-width="1.1"/>
<circle cx="830" cy="1250" r="4.8" fill="#fff" stroke="#000" stroke-width="1.1"/>
<circle cx="790" cy="1250" r="4.8" fill="#fff" stroke="#000" stroke-width="1.1"/>
<circle cx="750" cy="1250" r="4.8" fill="#fff" stroke="#000" stroke-width="1.1"/>
<circle cx="710" cy="1250" r="4.8" fill="#fff" stroke="#000" stroke-width="1.1"/>
<circle cx="670" cy="1250" r="4.8" fill="#fff" stroke="#000" stroke-width="1.1"/>
<circle cx="570" cy="1250" r="4.8" fill="#fff" stroke="#000" stroke-width="1.1"/>
<circle cx="530" cy="1250" r="4.85" fill="#fff" stroke="#000" stroke-width="2.2"/>
<circle cx="500" cy="1280" r="4.85" fill="#fff" stroke="#000" stroke-width="2.2"/>
<circle cx="610" cy="1300" r="4.8" fill="#fff" stroke="#000" stroke-width="1.1"/>
<circle cx="610" cy="1330" r="4.8" fill="#fff" stroke="#000" stroke-width="1.1"/>
<circle cx="610" cy="1360" r="4.85" fill="#fff" stroke="#000" stroke-width="2.2"/>
<circle cx="600" cy="1390" r="4.8" fill="#fff" stroke="#000" stroke-width="1.1"/>
<circle cx="570" cy="1420" r="4.8" fill="#fff" stroke="#000" stroke-width="1.1"/>
<circle cx="540" cy="1450" r="4.85" fill="#fff" stroke="#000" stroke-width="2.2"/>
<circle cx="1020" cy="970" r="4.8" fill="#fff" stroke="#000" stroke-width="1.1"/>
<circle cx="1000" cy="990" r="4.8" fill="#fff" stroke="#000" stroke-width="1.1"/>
<circle cx="980" cy="1010" r="4.8" fill="#fff" stroke="#000" stroke-width="1.1"/>
<circle cx="960" cy="1030" r="4.8" fill="#fff" stroke="#000" stroke-width="1.1"/>
<circle cx="940" cy="1050" r="4.8" fill="#fff" stroke="#000" stroke-width="1.1"/>
<circle cx="920" cy="1070" r="4.8" fill="#fff" stroke="#000" stroke-width="1.1"/>
<circle cx="920" cy="1100" r="4.8" fill="#fff" stroke="#000" stroke-width="1.1"/>
<circle cx="1100" cy="1050" r="4.8" fill="#fff" stroke="#000" stroke-width="1.1"/>
<circle cx="940" cy="1240" r="4.8" fill="#fff" stroke="#000" stroke-width="1.1"/>
<circle cx="960" cy="1260" r="4.8" fill="#fff" stroke="#000" stroke-width="1.1"/>
<g class="f">
<text x="77.6 84.8 87.57 93.66 99.2 101.98 110.28 116.37 122.46 128.56 131.88 137.42 140.19 146.28 151.83 154.6 161.8 164.57 172.32 176.2 181.75 187.84 193.93 199.47 202.24 208.34 211.11 217.2" y="63.1">Blue Mountains &amp; Orange Line</text>
<text x="77.6 84.8 90.34 96.43 99.75 103.63 109.17 111.95 114.72 121.92 128.01 133.55 139.09 142.41 145.19 152.38 155.16 162.35 167.9 175.65 181.2 186.74 192.28 195.6 198.38 203.92 206.69 212.78 215.55 221.65" y="83.1">Central Coast &amp; Newcastle Line</text>
<text x="77.6 84.8 90.89 96.98 100.3 105.85 109.72 112.49 118.59 121.36 127.45" y="103.1">Hunter Line</text>
<text x="77.6 85.36 91.45 96.99 100.87 106.96 113.05 115.82 121.92 124.69 130.78" y="123.1">Oberon Line</text>
<text x="77.6 84.25 87.02 92.56 95.88 101.98 108.07 110.84 118.04 120.81 129.11 131.89 135.21 138.53 144.07 150.16 156.25 162.34 168.44 171.21 177.3 183.39 189.48 195.58 198.35 204.44 207.21 213.3" y="143.1">Picton &amp; Mittagong Loop Line</text>
<text x="77.6 84.25 90.34 96.43 99.75 105.85 108.62 115.82 121.91 127.45 132.99 136.31 139.08 145.18 147.95 154.04" y="163.1">South Coast Line</text>
<text x="77.6 84.25 90.34 96.43 99.75 105.85 111.39 115.27 121.36 124.13 131.33 134.1 140.19 146.28 149.05 154.6 160.69 166.78 172.32 175.1 181.19 183.96 190.05" y="183.1">Southern Highlands Line</text>
<text x="77.6 87.01 92.55 98.1 101.42 104.19 111.39 114.16 116.93 119.7 122.47 128.02 135.77 141.32 145.2 149.07 154.62 157.39 163.48 166.25 172.34" y="203.1">West &amp; Illawarra Line</text>
<g class="w"><g class="r" transform="translate(520,40) rotate(-45)"><text x="-52.66 -45.46 -39.37 -33.28 -27.18 -21.09" y="2.8">Dungog</text></g></g>
<g class="w"><g class="r" transform="translate(560,40) rotate(-45)"><text x="-73.36 -63.95 -61.18 -57.3 -53.42 -47.88 -41.79 -35.7 -32.93 -30.15 -24.61 -21.84 -18.52 -11.32" y="2.8">Wirragulla (R)</text></g></g>
<g class="w"><g class="r" transform="translate(600,40) rotate(-45)"><text x="-78.35 -68.94 -63.39 -60.62 -57.85 -52.31 -48.43 -42.34 -36.25 -30.15 -24.61 -21.84 -18.52 -11.32" y="2.8">Wallarobba (R)</text></g></g>
<g class="w"><g class="r" transform="translate(640,40) rotate(-45)"><text x="-60.07 -52.87 -50.1 -47.33 -44.56 -38.47 -32.93 -30.15 -24.61 -21.84 -18.52 -11.32" y="2.8">Hilldale (R)</text></g></g>
<g class="w"><g class="r" transform="translate(680,40) rotate(-45)"><text x="-73.93 -65.63 -60.08 -56.2 -52.88 -50.11 -44.02 -38.48 -35.71 -28.51 -24.63 -19.09 -13.54" y="2.8">Martins Creek</text></g></g>
<g class="w"><g class="r" transform="translate(720,40) rotate(-45)"><text x="-50.66 -44.01 -38.47 -35.15 -29.6 -25.73 -20.18 -14.09" y="2.8">Paterson</text></g></g>
<g class="w"><g class="r" transform="translate(760,40) rotate(-45)"><text x="-77.79 -69.48 -66.71 -60.62 -54.53 -48.99 -45.11 -42.34 -36.25 -30.15 -24.61 -21.84 -18.52 -11.32" y="2.8">Mindaribba (R)</text></g></g>
<g class="w"><g class="r" transform="translate(800,40) rotate(-45)"><text x="-50.46 -44.37 -38.83 -36.06 -30.51 -26.63 -21.09" y="2.8">Telarah</text></g></g>
<g class="w"><g class="r" transform="translate(560,120) rotate(-45)"><text x="-44.92 -38.27 -32.73 -26.63 -20.54" y="2.8">Scone</text></g></g>
<g class="w"><g class="r" transform="translate(600,120) rotate(-45)"><text x="-53.98 -46.78 -40.69 -35.15 -31.27 -25.18 -19.63 -14.09" y="2.8">Aberdeen</text></g></g>
<g class="w"><g class="r" transform="translate(640,120) rotate(-45)"><text x="-74.48 -66.17 -60.08 -54.54 -46.78 -41.24 -38.47 -35.7 -29.6 -25.73 -19.63 -13.54" y="2.8">Muswellbrook</text></g></g>
<g class="w"><g class="r" transform="translate(680,120) rotate(-45)"><text x="-53.42 -46.77 -44 -37.91 -31.82 -29.05 -23.5 -20.18 -14.09" y="2.8">Singleton</text></g></g>
<g class="w"><g class="r" transform="translate(720,120) rotate(-45)"><text x="-51.76 -44.56 -40.68 -35.14 -29.05 -23.5 -20.18 -14.09" y="2.8">Branxton</text></g></g>
<g class="w"><g class="r" transform="translate(760,120) rotate(-45)"><text x="-34.04 -26.28 -22.41 -16.86 -13.54" y="2.8">Greta</text></g></g>
<g class="w"><g class="r" transform="translate(800,120) rotate(-45)"><text x="-55.65 -49.55 -43.46 -37.92 -31.83 -29.06 -22.96 -17.42 -11.88" y="2.8">Lochinvar</text></g></g>
<g class="w"><g class="r" transform="translate(840,120) rotate(-45)"><text x="-37.37 -31.28 -25.74 -21.86 -19.09 -13.54" y="2.8">Farley</text></g></g>
<g class="w"><g class="r" transform="translate(480,200) rotate(-45)"><text x="-62.1 -54.9 -49.36 -43.81 -38.27 -32.18 -26.09 -20.54" y="2.8">Cessnock</text></g></g>
<g class="w"><g class="r" transform="translate(520,200) rotate(-45)"><text x="-55.65 -48.45 -42.9 -40.13 -34.59 -28.5 -22.41 -16.31 -13.54" y="2.8">Caledonia</text></g></g>
<g class="w"><g class="r" transform="translate(560,200) rotate(-45)"><text x="-35.7 -28.5 -22.95 -17.41 -14.09" y="2.8">Neath</text></g></g>
<g class="w"><g class="r" transform="translate(600,200) rotate(-45)"><text x="-53.98 -46.78 -40.69 -35.15 -31.27 -22.41 -16.86 -14.09" y="2.8">Abermain</text></g></g>
<g class="w"><g class="r" transform="translate(640,200) rotate(-45)"><text x="-44 -34.59 -29.05 -23.5 -20.18 -14.09" y="2.8">Weston</text></g></g>
<g class="w"><g class="r" transform="translate(680,200) rotate(-45)"><text x="-87.76 -80.56 -74.47 -70.59 -67.27 -61.18 -58.41 -51.21 -45.12 -41.24 -37.36 -34.59 -31.82 -24.62 -18.53 -14.65 -10.77" y="2.8">North Kurri Kurri</text></g></g>
<g class="w"><g class="r" transform="translate(720,200) rotate(-45)"><text x="-45.11 -39.02 -32.92 -27.38 -24.06 -17.97 -14.09" y="2.8">Loxford</text></g></g>
<g class="w"><g class="r" transform="translate(760,200) rotate(-45)"><text x="-92.76 -85.01 -82.24 -79.46 -76.69 -73.92 -68.38 -62.84 -59.51 -53.42 -47.33 -44.56 -37.36 -31.82 -29.05 -22.96 -16.86 -13.54" y="2.8">Gillieston Heights</text></g></g>
<g class="w"><g class="r" transform="translate(800,200) rotate(-45)"><text x="-58.96 -50.65 -44.56 -38.47 -32.38 -29.06 -26.28 -19.09 -13.54" y="2.8">Mount Dee</text></g></g>
<g class="w"><g class="r" transform="translate(890,100) rotate(-45)"><text x="14.3 22.61 28.15 30.92 34.24 37.01 42.55 48.65" y="2.8">Maitland</text></g></g>
<g class="w"><g class="r" transform="translate(940,100) rotate(-45)"><text x="7.3 14.5 17.27 23.36 29.45 32.23 38.87 42.2 46.07 51.62 57.16" y="2.8">High Street</text></g></g>
<g class="w"><g class="r" transform="translate(980,100) rotate(-45)"><text x="7.3 13.95 19.49 25.04 28.36 31.13 39.43 44.98 47.75 51.07 53.84 59.38 65.47" y="2.8">East Maitland</text></g></g>
<g class="w"><g class="r" transform="translate(1020,100) rotate(-45)"><text x="7.3 13.95 16.72 22.26 25.58 31.68 35.55 38.33 43.87 46.64 53.29 56.61 60.49 66.03 71.58" y="2.8">Victoria Street</text></g></g>
<g class="w"><g class="r" transform="translate(1060,100) rotate(-45)"><text x="7.3 15.61 21.15 24.47 27.79 33.88 37.76" y="2.8">Metford</text></g></g>
<g class="w"><g class="r" transform="translate(1100,100) rotate(-45)"><text x="7.3 13.39 19.48 25.58 29.45 35.55 38.87 44.96" y="2.8">Thornton</text></g></g>
<g class="w"><g class="r" transform="translate(1140,100) rotate(-45)"><text x="7.3 14.5 20.04 23.92 29.46 35.01 38.33 41.1 46.64 49.41" y="2.8">Beresfield</text></g></g>
<g class="w"><g class="r" transform="translate(1180,100) rotate(-45)"><text x="7.3 13.39 18.93 22.81 26.69" y="2.8">Tarro</text></g></g>
<g class="w"><g class="r" transform="translate(1220,100) rotate(-45)"><text x="7.3 14.5 20.04 25.58 31.68 37.22" y="2.8">Hexham</text></g></g>
<g class="w"><g class="r" transform="translate(1260,100) rotate(-45)"><text x="7.3 13.95 19.49 25.58 31.68 37.77 43.31 46.63" y="2.8">Sandgate</text></g></g>
<g class="w"><g class="r" transform="translate(1300,100) rotate(-45)"><text x="7.3 16.71 22.25 26.13 31.68 37.77 41.65 47.74 53.83" y="2.8">Warabrook</text></g></g>
<g class="w"><g class="r" transform="translate(1340,100) rotate(-45)"><text x="7.3 16.71 22.25 26.13 31.68 35 40.54" y="2.8">Waratah</text></g></g>
<g class="w"><g class="r" transform="translate(1490,110) rotate(-45)"><text x="-57.65 -50.45 -44.91 -36.05 -33.28 -30.5 -27.18 -21.09" y="2.8">Hamilton</text></g></g>
<g class="w"><g class="r" transform="translate(1530,110) rotate(-45)"><g class="h" transform="translate(-20,-0.6)"><ellipse rx="4.25" ry="4.8"/><path d="M-1.6,-2.9V2.9M1.6,-2.9V2.9M-1.6,0H1.6"/></g><text x="-136.04 -128.85 -123.3 -115.55 -110 -104.46 -98.92 -95.6 -92.82 -87.28 -84.51 -81.74 -75.65 -72.33 -66.78 -62.9 -57.36 -51.27 -45.73 -39.63 -33.54" y="2.8">Newcastle Interchange</text></g></g>
<g class="h" transform="translate(1420,119.4)"><ellipse rx="4.25" ry="4.8"/><path d="M-1.6,-2.9V2.9M1.6,-2.9V2.9M-1.6,0H1.6"/></g><text x="1343.31 1350.51 1354.38 1360.48 1366.02 1372.11 1380.97 1386.52 1392.06 1398.15 1404.24" y="122.8">Broadmeadow</text>
<text x="1355.5 1362.7 1368.79 1374.33 1383.2 1388.74 1392.06 1398.15 1405.91" y="142.8">Adamstown</text>
<text x="1360.43 1367.62 1373.72 1377.04 1382.58 1386.46" y="162.8">Kotara</text>
<text x="1339.88 1347.07 1352.62 1356.5 1362.59 1365.36 1368.68" y="182.8">Cardiff</text>
<g class="h" transform="translate(1340,199.4)"><ellipse rx="4.25" ry="4.8"/><path d="M-1.6,-2.9V2.9M1.6,-2.9V2.9M-1.6,0H1.6"/></g><text x="1289.89 1297.64 1300.42 1305.96 1312.05 1318.14 1323.69 1326.46" y="202.8">Glendale</text>
<text x="1268.83 1276.03 1282.12 1287.66 1293.21 1295.98 1301.52 1304.29 1311.49 1315.37 1320.91 1326.46" y="222.8">Cockle Creek</text>
<text x="1276.54 1282.63 1288.17 1292.05 1297.59 1300.37 1306.46" y="242.8">Teralba</text>
<text x="1257.67 1263.77 1269.31 1274.85 1280.4 1283.17 1286.49 1292.03 1295.91" y="262.8">Fassifern</text>
<text x="1269.87 1277.07 1284.82 1290.37 1296.46" y="282.8">Awaba</text>
<text x="1248.81 1256.01 1262.1 1265.98 1271.52 1274.29 1281.49 1285.37 1290.91 1296.46" y="302.8">Dora Creek</text>
<text x="1261 1269.31 1275.4 1279.28 1282.05 1287.59 1293.14 1298.68" y="322.8">Morisset</text>
<text x="1275.96 1285.37 1290.91 1296.46" y="342.8">Wyee</text>
<text x="1248.25 1257.66 1263.21 1267.09 1273.18 1278.72 1282.6 1288.14 1293.69 1296.46" y="362.8">Warnervale</text>
<g class="h" transform="translate(1270,379.4)"><ellipse rx="4.25" ry="4.8"/><path d="M-1.6,-2.9V2.9M1.6,-2.9V2.9M-1.6,0H1.6"/></g><text x="1228.77 1238.18 1243.72 1249.82 1255.91" y="382.8">Wyong</text>
<text x="1236.58 1242.67 1248.76 1254.85 1260.94 1266.49 1270.37 1275.91" y="402.8">Tuggerah</text>
<text x="1234.91 1242.67 1248.76 1252.64 1255.41 1264.27 1270.37 1275.91" y="422.8">Ourimbah</text>
<text x="1244.32 1250.42 1253.19 1258.73 1264.27 1268.15 1274.24" y="442.8">Lisarow</text>
<text x="1221.04 1228.24 1231.01 1236.56 1242.65 1248.19 1252.07 1257.61 1260.39 1267.04 1272.58 1276.46" y="462.8">Niagara Park</text>
<text x="1250.42 1257.61 1263.16 1267.04 1272.58 1276.46" y="482.8">Narara</text>
<g class="h" transform="translate(1270,499.4)"><ellipse rx="4.25" ry="4.8"/><path d="M-1.6,-2.9V2.9M1.6,-2.9V2.9M-1.6,0H1.6"/></g><text x="1223.23 1230.98 1237.08 1242.62 1245.94 1252.03 1255.91" y="502.8">Gosford</text>
<text x="1229.37 1236.02 1242.11 1244.88 1250.97 1254.29 1257.07 1264.26 1267.04 1272.58 1276.46" y="522.8">Point Clare</text>
<text x="1236.55 1242.64 1248.18 1253.72 1259.27 1265.36 1268.68" y="542.8">Tascott</text>
<text x="1198.27 1205.47 1211.56 1217.65 1220.43 1225.97 1233.72 1239.82 1245.91" y="562.8">Koolewong</text>
<text x="1187.13 1196.55 1202.64 1208.18 1210.95 1220.37 1226.46" y="582.8">Woy Woy</text>
<text x="1138.89 1148.3 1154.39 1160.49 1166.58 1172.12 1178.21 1183.75 1189.85 1195.39 1198.16 1201.48 1208.68" y="602.8">Wondabyne (R)</text>
<text x="1148.79 1155.99 1159.87 1165.96 1172.05 1177.59 1180.37 1185.91" y="622.8">Brooklyn</text>
<text x="1149.32 1156.52 1162.61 1170.37 1175.91" y="642.8">Cowan</text>
<text x="1142.11 1149.31 1154.85 1158.73 1164.82 1172.58 1176.46" y="662.8">Berowra</text>
<g class="h" transform="translate(1170,679.4)"><ellipse rx="4.25" ry="4.8"/><path d="M-1.6,-2.9V2.9M1.6,-2.9V2.9M-1.6,0H1.6"/></g><text x="1121.56 1128.76 1134.85 1138.73 1144.82 1150.37 1156.46" y="682.8">Hornsby</text>
<text x="1148.21 1154.86 1160.95 1167.04 1169.82 1175.91" y="702.8">Epping</text>
<text x="1131.03 1140.45 1145.99 1151.53 1154.85 1157.62 1164.82 1170.37 1176.46" y="722.8">West Ryde</text>
<text x="1103.35 1110.55 1116.64 1120.52 1123.84 1129.93 1132.7 1139.35 1142.67 1146.55 1152.09 1155.41 1161.5 1164.82 1167.59 1173.14 1175.91" y="742.8">North Strathfield</text>
<g class="w"><g class="r" transform="translate(40,740) rotate(-45)"><text x="14.3 22.06 25.93 31.48 37.57 43.66" y="2.8">Orange</text></g></g>
<g class="w"><g class="r" transform="translate(70,740) rotate(-45)"><text x="7.3 15.61 18.38 21.15 23.92 27.24 33.33 39.42 43.3 49.39" y="2.8">Millthorpe</text></g></g>
<g class="w"><g class="r" transform="translate(100,740) rotate(-45)"><text x="7.3 14.5 17.27 22.81 28.36 34.45 39.99" y="2.8">Blayney</text></g></g>
<g class="w"><g class="r" transform="translate(130,740) rotate(-45)"><text x="7.3 14.5 20.04 27.8 33.89 37.77 40.54 46.63 52.72" y="2.8">Newbridge</text></g></g>
<g class="w"><g class="r" transform="translate(160,740) rotate(-45)"><text x="7.3 15.06 20.6 26.69 30.57 36.66 42.2 47.75 50.52 57.17 59.94 65.48 68.26 74.35" y="2.8">Georges Plains</text></g></g>
<g class="w"><g class="r" transform="translate(190,740) rotate(-45)"><text x="7.3 14.5 20.04 23.36 29.45 35.55 39.42 44.97" y="2.8">Bathurst</text></g></g>
<g class="w"><g class="r" transform="translate(220,740) rotate(-45)"><text x="7.3 14.5 20.04 26.13 28.9 34.45" y="2.8">Raglan</text></g></g>
<g class="w"><g class="r" transform="translate(250,740) rotate(-45)"><text x="14.3 23.71 29.26 32.03 34.8 40.34 44.22 49.76 57.52 63.06 69.15" y="2.8">Wallerawang</text></g></g>
<g class="w"><g class="r" transform="translate(310,770) rotate(-45)"><text x="-53.22 -47.12 -44.35 -41.03 -34.94 -28.85 -22.76" y="2.8">Lithgow</text></g></g>
<g class="w"><g class="r" transform="translate(280,770) rotate(-45)"><text x="-57.86 -50.66 -44.57 -36.81 -31.27 -25.18 -21.86 -16.31 -13.54" y="2.8">Bowenfels</text></g></g>
<text x="174.85 182.05 187.59 193.69 199.23" y="792.8">Rydal</text>
<text x="169.31 175.4 180.94 184.82 190.37 196.46" y="832.8">Tarana</text>
<text x="159.55 167.3 173.4 178.94 182.82 188.91" y="872.8">Oberon</text>
<g class="w"><g class="r" transform="translate(360,760) rotate(-45)"><text x="-60.06 -53.97 -51.2 -45.11 -42.34 -36.25 -30.7 -24.61 -21.84 -18.52 -11.32" y="2.8">Zig Zag (R)</text></g></g>
<g class="w"><g class="r" transform="translate(390,760) rotate(-45)"><text x="-42.89 -35.7 -30.15 -27.38 -24.61 -21.84 -18.52 -11.32" y="2.8">Bell (R)</text></g></g>
<g class="w"><g class="r" transform="translate(420,760) rotate(-45)"><text x="-84.24 -75.94 -69.84 -63.75 -57.66 -54.34 -51.57 -44.92 -42.15 -36.6 -33.28 -27.19 -23.31 -20.54" y="2.8">Mount Victoria</text></g></g>
<g class="w"><g class="r" transform="translate(450,760) rotate(-45)"><text x="-61.19 -53.99 -51.22 -45.68 -40.13 -34.59 -28.5 -22.95 -17.41 -14.09" y="2.8">Blackheath</text></g></g>
<g class="w"><g class="r" transform="translate(480,760) rotate(-45)"><text x="-69.48 -61.18 -55.64 -49.54 -46.77 -40.68 -32.92 -30.15 -22.95 -17.41 -14.09" y="2.8">Medlow Bath</text></g></g>
<g class="w"><g class="r" transform="translate(510,760) rotate(-45)"><text x="-56.74 -49.54 -44 -40.68 -34.59 -28.5 -19.63 -13.54" y="2.8">Katoomba</text></g></g>
<g class="w"><g class="r" transform="translate(540,760) rotate(-45)"><text x="-35.15 -29.06 -23.51 -17.42 -13.54" y="2.8">Leura</text></g></g>
<g class="w"><g class="r" transform="translate(570,760) rotate(-45)"><text x="-85 -75.59 -70.04 -63.95 -60.63 -52.87 -46.78 -42.9 -39.58 -33.49 -30.72 -24.63 -19.09 -16.31 -13.54" y="2.8">Wentworth Falls</text></g></g>
<g class="w"><g class="r" transform="translate(600,760) rotate(-45)"><text x="-57.86 -50.66 -44.57 -41.8 -39.03 -33.48 -27.39 -21.3 -17.42 -13.54" y="2.8">Bullaburra</text></g></g>
<g class="w"><g class="r" transform="translate(630,760) rotate(-45)"><text x="-45.12 -39.03 -33.48 -25.73 -20.18 -14.09" y="2.8">Lawson</text></g></g>
<g class="w"><g class="r" transform="translate(660,760) rotate(-45)"><text x="-61.74 -54.54 -49 -44.01 -38.47 -35.7 -29.6 -25.73 -19.63 -13.54" y="2.8">Hazelbrook</text></g></g>
<g class="w"><g class="r" transform="translate(690,760) rotate(-45)"><text x="-55.07 -45.66 -39.57 -33.47 -27.38 -24.06 -17.97 -14.09" y="2.8">Woodford</text></g></g>
<g class="w"><g class="r" transform="translate(720,760) rotate(-45)"><text x="-40.68 -34.59 -31.82 -25.73 -19.63 -14.09" y="2.8">Linden</text></g></g>
<g class="w"><g class="r" transform="translate(750,760) rotate(-45)"><text x="-76.69 -70.6 -65.06 -58.97 -56.19 -50.65 -44.56 -38.47 -32.38 -28.5 -25.73 -19.63 -13.54" y="2.8">Faulconbridge</text></g></g>
<g class="w"><g class="r" transform="translate(780,760) rotate(-45)"><text x="-65.61 -58.96 -52.87 -48.99 -46.22 -40.12 -34.03 -26.28 -20.18 -14.09" y="2.8">Springwood</text></g></g>
<g class="w"><g class="r" transform="translate(810,760) rotate(-45)"><text x="-76.15 -69.5 -63.96 -61.19 -58.42 -52.87 -47.33 -44.56 -37.36 -31.82 -29.05 -22.96 -16.86 -13.54" y="2.8">Valley Heights</text></g></g>
<g class="w"><g class="r" transform="translate(840,760) rotate(-45)"><text x="-54.53 -45.12 -39.57 -35.7 -31.82 -29.05 -20.18 -14.09" y="2.8">Warrimoo</text></g></g>
<g class="w"><g class="r" transform="translate(870,760) rotate(-45)"><text x="-49.55 -42.36 -39.58 -34.04 -28.5 -25.73 -20.18 -14.09" y="2.8">Blaxland</text></g></g>
<g class="w"><g class="r" transform="translate(900,760) rotate(-45)"><text x="-57.86 -50.1 -47.33 -41.79 -35.7 -29.6 -25.73 -19.63 -13.54" y="2.8">Glenbrook</text></g></g>
<g class="w"><g class="r" transform="translate(930,760) rotate(-45)"><text x="-52.32 -46.22 -40.68 -34.59 -29.05 -25.73 -19.63 -13.54" y="2.8">Lapstone</text></g></g>
<g class="w"><g class="r" transform="translate(960,760) rotate(-45)"><text x="-61.75 -55.1 -46.23 -40.14 -37.37 -30.72 -27.95 -22.41 -19.63 -13.54" y="2.8">Emu Plains</text></g></g>
<g class="w"><g class="r" transform="translate(990,760) rotate(-45)"><text x="-42.35 -35.7 -30.15 -24.06 -20.18 -17.41 -14.09" y="2.8">Penrith</text></g></g>
<g class="w"><g class="r" transform="translate(1020,760) rotate(-45)"><text x="-49.55 -42.9 -39.58 -36.81 -28.51 -22.96 -19.09 -13.54" y="2.8">St Marys</text></g></g>
<g class="w"><g class="r" transform="translate(1050,770) rotate(-45)"><text x="-64.86 -57.66 -54.89 -49.35 -43.8 -38.26 -34.94 -28.85 -21.09" y="2.8">Blacktown</text></g></g>
<g class="w"><g class="r" transform="translate(1080,770) rotate(-45)"><text x="-64.86 -55.45 -49.9 -44.36 -41.04 -32.18 -26.63 -21.09" y="2.8">Westmead</text></g></g>
<g class="w"><g class="r" transform="translate(1110,780) rotate(-45)"><text x="-67.08 -60.43 -54.89 -51.01 -47.13 -41.59 -32.73 -27.18 -23.86 -20.54" y="2.8">Parramatta</text></g></g>
<text x="1152 1158.09 1160.86 1166.96 1172.5 1178.59 1187.45 1193.54" y="764">Lidcombe</text>
<text x="1224 1230.65 1233.97 1237.85 1243.39 1246.71 1252.8 1256.12 1258.89 1264.44 1267.21" y="754.5">Strathfield</text><g class="h" transform="translate(1281.3,751.1)"><ellipse rx="4.25" ry="4.8"/><path d="M-1.6,-2.9V2.9M1.6,-2.9V2.9M-1.6,0H1.6"/></g>
<text x="1355.5 1362.7 1368.24 1374.33 1377.65 1381.53 1387.07" y="722.5">Central</text><g class="h" transform="translate(1397.85,719.1)"><ellipse rx="4.25" ry="4.8"/><path d="M-1.6,-2.9V2.9M1.6,-2.9V2.9M-1.6,0H1.6"/></g>
<text x="1355 1362.2 1367.74 1373.83 1377.15 1382.7 1386.57" y="782.8">Redfern</text>
<text x="1335 1341.65 1347.19 1353.28 1358.83 1364.92 1371.01 1376.55" y="802.8">Sydenham</text>
<text x="1148 1155.2 1160.74 1166.83 1172.38 1178.47 1181.79 1187.33 1190.1 1196.75 1202.3 1206.17" y="822.8">Regents Park</text>
<text x="1057.16 1064.35 1069.9 1075.99 1079.87 1085.41 1094.27 1099.82 1103.14 1106.46" y="842.8">Cabramatta</text>
<text x="1067.13 1073.22 1075.99 1081.53 1087.08 1090.95 1097.05 1103.14 1109.23" y="862.8">Liverpool</text>
<text x="1062.34 1070.1 1072.87 1078.41 1084.5 1087.82 1090.59 1096.14 1098.91" y="892.8">Glenfield</text>
<g class="h" transform="translate(1100,919.4)"><ellipse rx="4.25" ry="4.8"/><path d="M-1.6,-2.9V2.9M1.6,-2.9V2.9M-1.6,0H1.6"/></g><text x="1023.87 1031.06 1036.61 1045.47 1051.56 1057.65 1063.2 1065.97 1068.74 1072.06 1078.15 1085.91" y="922.8">Campbelltown</text>
<text x="1056.81 1065.11 1070.65 1076.2 1081.74 1085.62 1088.94 1095.03 1101.12" y="952.8">Macarthur</text>
<g class="w"><g class="r" transform="translate(1160,870) rotate(-45)"><text x="7.3 14.5 20.04 25.58 31.13 36.67 42.76" y="2.8">Revesby</text></g></g>
<g class="w"><g class="r" transform="translate(1200,870) rotate(-45)"><text x="7.3 14.5 20.04 25.58 31.13 35.01 37.78 43.32 46.09 53.29 56.06 58.83 61.61" y="2.8">Beverly Hills</text></g></g>
<text x="1318 1327.41 1333.5 1336.28 1339.05 1341.82 1344.59 1351.79 1355.67 1361.21 1366.75" y="822.8">Wolli Creek</text>
<text x="1318 1325.2 1331.29 1335.17 1340.71 1344.03 1349.57 1352.35 1355.12 1357.89" y="842.8">Hurstville</text>
<text x="1318 1324.65 1330.74 1334.06 1340.15 1345.7 1349.57 1352.35 1357.89 1363.98" y="862.8">Sutherland</text>
<text x="1325 1334.41 1339.95 1343.28 1348.82 1352.7 1356.02 1361.56 1364.33" y="882.8">Waterfall</text>
<text x="1318 1325.2 1330.74 1333.51 1339.06 1345.15 1350.69 1356.78 1362.87 1366.75 1372.84 1378.94 1381.71 1388.91 1395 1398.88 1402.2" y="902.8">Helensburgh North</text>
<text x="1318 1325.76 1329.08 1332.4 1338.49 1342.37" y="922.8">Otford</text>
<text x="1318 1324.65 1327.97 1333.51 1339.6 1347.36 1352.9 1355.68 1358.45 1361.22 1367.87 1373.41 1377.29" y="942.8">Stanwell Park</text>
<text x="1318 1325.2 1331.29 1336.83 1339.6 1345.15 1347.92 1350.69 1354.01" y="962.8">Coalcliff</text>
<text x="1318 1324.65 1330.19 1335.74 1339.61 1345.71 1351.8 1355.68 1361.77 1367.86 1373.95" y="982.8">Scarborough</text>
<text x="1308 1317.41 1323.5 1332.37 1338.46 1344 1347.88 1351.76" y="1002.8">Wombarra</text>
<text x="1288 1295.2 1301.29 1304.06 1309.6 1315.7 1321.24 1324.01" y="1022.8">Coledale</text>
<text x="1268 1275.2 1281.29 1286.83 1290.15 1292.92 1299.02 1307.88 1313.42" y="1042.8">Austinmer</text>
<text x="1255 1261.09 1267.18 1269.96 1273.83 1277.71 1283.8 1289.9" y="1062.8">Thirroul</text>
<text x="1211.06 1218.26 1223.81 1226.58 1232.12 1238.21 1243.75 1249.85 1255.94 1259.82 1265.91" y="912.8">Helensburgh</text>
<text x="1208 1215.2 1221.29 1224.06 1226.83" y="1082.8">Bulli</text>
<text x="1188 1197.41 1203.5 1209.6 1215.69 1221.78 1227.87" y="1102.8">Woonona</text>
<text x="1168 1175.2 1180.74 1183.51 1186.28 1191.83 1200.69 1206.78" y="1122.8">Bellambi</text>
<text x="1148 1155.2 1161.29 1165.17 1169.05 1171.82 1180.68 1186.22" y="1142.8">Corrimal</text>
<text x="1138 1144.09 1150.18 1157.94 1161.82 1167.36 1173.45 1179.54" y="1162.8">Towradgi</text>
<text x="1138 1144.09 1149.63 1152.41 1156.28 1161.83 1164.6 1172.9 1178.45 1183.99 1190.08 1196.17" y="1182.8">Fairy Meadow</text>
<text x="1145 1152.2 1158.29 1162.17 1165.49 1171.58 1174.35 1183.76 1189.86 1192.63 1195.4 1201.49 1207.58 1213.67 1219.77 1225.86" y="1202.8">North Wollongong</text>
<text x="1145 1154.41 1160.5 1163.28 1166.05 1172.14 1178.23 1184.32 1190.41 1196.51" y="1222.8">Wollongong</text>
<text x="1145 1152.2 1158.29 1164.38 1167.15 1172.7 1176.02 1182.11" y="1242.8">Coniston</text>
<g class="w"><g class="r" transform="translate(1190,1260) rotate(-45)"><text x="7.3 13.39 18.93 24.48 30.02 36.11 42.2 45.52" y="2.8">Lysaghts</text></g></g>
<g class="w"><g class="r" transform="translate(1220,1260) rotate(-45)"><text x="7.3 14.5 18.38 21.15 27.24 33.33 36.1 38.87" y="2.8">Cringila</text></g></g>
<g class="w"><g class="r" transform="translate(1250,1260) rotate(-45)"><text x="7.3 16.71 22.25 26.13 30.01 35.55 43.31 49.4 55.49 61.59 64.36 71.56 77.1 79.87 85.96 92.05 95.37" y="2.8">Warrawong Heights</text></g></g>
<g class="w"><g class="r" transform="translate(1280,1260) rotate(-45)"><text x="7.3 13.95 20.04 23.92 27.24 30.01 37.21 42.75 51.62 57.71 60.48" y="2.8">Port Kembla</text></g></g>
<g class="w"><g class="r" transform="translate(1310,1260) rotate(-45)"><text x="14.3 20.39 23.16 28.71 34.25 37.02 39.79 45.34 48.11 53.65 59.74 65.83" y="2.8">Five Islands</text></g></g>
<text x="1105 1112.2 1118.29 1123.83 1129.92 1136.02 1141.56 1145.44 1149.32" y="1282.8">Unanderra</text>
<text x="1013.5 1020.7 1026.24 1035.1 1041.2 1043.97 1049.51 1052.28 1060.04 1063.92 1069.46 1075.55 1081.64 1087.19 1089.96 1093.28 1100.48" y="1314.5">Kembla Grange (R)</text>
<text x="1012 1019.2 1024.74 1030.83 1034.15" y="1329.5">Dapto</text>
<text x="966.5 973.7 979.24 985.33 991.43 997.52 1003.06 1005.83" y="1289">Avondale</text>
<text x="883.85 891.04 896.59 902.13 909.89 915.43 919.31 925.4 930.94 933.72 940.91 946.46" y="1312.8">Haywards Bay</text>
<text x="876.6 883.8 886.57 892.66 895.43 901.52 907.61 910.39 917.04 922.58 926.46" y="1332.8">Albion Park</text>
<text x="877.12 884.87 890.42 895.96 898.73 904.82 907.59 913.14 916.46" y="1352.8">Oak Flats</text>
<text x="816.19 822.84 828.93 834.47 837.25 840.02 846.11 851.65 855.53 861.62 867.71 873.81 877.68 880.46 886 892.09 898.18 903.72 907.05 909.82 915.91" y="1372.8">Shellharbour Junction</text>
<text x="878.24 885.44 891.53 897.62 906.49 912.58 916.46" y="1392.8">Dunmore</text>
<text x="864.94 873.25 876.02 882.11 888.2 893.75 902.61 908.7 912.58 916.46" y="1412.8">Minnamurra</text>
<text x="887.66 894.86 900.95 909.82 915.91" y="1432.8">Bombo</text>
<text x="885.08 892.28 895.05 900.59 909.46" y="1452.8">Kiama</text>
<g class="w"><g class="r" transform="translate(920,1480) rotate(-45)"><text x="-62.29 -54.53 -48.99 -45.11 -41.23 -38.46 -32.37 -26.28 -20.18 -14.09" y="2.8">Gerringong</text></g></g>
<g class="w"><g class="r" transform="translate(890,1480) rotate(-45)"><text x="-34.04 -26.84 -21.3 -17.42 -13.54" y="2.8">Berry</text></g></g>
<g class="w"><g class="r" transform="translate(860,1480) rotate(-45)"><text x="-60.63 -53.43 -47.34 -38.48 -32.93 -26.84 -21.3 -17.42 -13.54" y="2.8">Bomaderry</text></g></g>
<text x="822 829.2 835.29 843.05 846.93" y="1470">Nowra</text>
<text x="748.79 758.2 764.29 768.17 772.05 774.82 780.91 786.46" y="1502.8">Worrigee</text>
<text x="730.52 737.16 743.26 749.35 752.67 758.76 761.53 768.73 774.82 782.58 786.46" y="1522.8">South Nowra</text>
<text x="701.15 708.35 714.44 723.31 729.4 734.94 738.82 742.14 748.23 754.32 757.1 764.85 768.73 774.27 780.37 786.46" y="1542.8">Comberton Grange</text>
<text x="741.58 748.78 754.87 760.42 765.96 768.73 774.27 779.82 785.91" y="1562.8">Huskisson</text>
<text x="740.67 747.32 750.1 756.19 761.73 767.27 773.37 776.69 779.46" y="1582.8">Vincentia</text>
<text x="1034.53 1041.18 1043.95 1049.5 1052.82 1058.91" y="1002.8">Picton</text>
<text x="1009.35 1015.44 1020.98 1027.08 1035.94 1042.03 1048.12" y="1042.8">Tahmoor</text>
<text x="993.2 1000.4 1005.94 1009.82 1015.91" y="1072.8">Bargo</text>
<text x="942.14 948.79 954.33 958.21 962.09 964.86 970.95 977.05 983.14 989.23" y="1102.8">Yerrinbool</text>
<text x="887.37 895.68 898.45 901.77 905.09 910.63 916.72 922.82 928.91" y="1132.8">Mittagong</text>
<g class="h" transform="translate(910,1169.4)"><ellipse rx="4.25" ry="4.8"/><path d="M-1.6,-2.9V2.9M1.6,-2.9V2.9M-1.6,0H1.6"/></g><text x="868.76 875.96 882.05 889.81 893.69 899.23" y="1172.8">Bowral</text>
<g class="h" transform="translate(880,1199.4)"><ellipse rx="4.25" ry="4.8"/><path d="M-1.6,-2.9V2.9M1.6,-2.9V2.9M-1.6,0H1.6"/></g><text x="823.24 831.54 837.63 843.18 848.72 851.49 858.14 863.69 866.46" y="1202.8">Moss Vale</text>
<text x="831.52 838.17 843.72 849.26 852.58 858.12" y="1232.8">Exeter</text>
<g class="w"><g class="r" transform="translate(830,1250) rotate(-45)"><text x="-63.38 -56.19 -50.09 -44 -37.91 -32.37 -26.28 -20.18 -14.09" y="2.8">Bundanoon</text></g></g>
<g class="w"><g class="r" transform="translate(790,1250) rotate(-45)"><text x="-47.34 -40.69 -35.15 -29.06 -25.18 -19.09 -13.54" y="2.8">Penrose</text></g></g>
<g class="w"><g class="r" transform="translate(750,1250) rotate(-45)"><text x="-49.54 -40.13 -37.36 -31.27 -25.18 -19.63 -16.86 -14.09" y="2.8">Wingello</text></g></g>
<g class="w"><g class="r" transform="translate(710,1250) rotate(-45)"><text x="-43.45 -37.36 -31.82 -29.05 -26.28 -20.18 -14.09" y="2.8">Tallong</text></g></g>
<g class="w"><g class="r" transform="translate(670,1250) rotate(-45)"><text x="-46.22 -37.92 -32.38 -28.5 -22.41 -19.63 -14.09" y="2.8">Marulan</text></g></g>
<g class="w"><g class="r" transform="translate(620,1250) rotate(-45)"><text x="14.3 22.06 28.15 34.24 37.01 43.1 49.2 53.07" y="2.8">Goulburn</text><g class="h" transform="translate(67.165,-0.6)"><ellipse rx="4.25" ry="4.8"/><path d="M-1.6,-2.9V2.9M1.6,-2.9V2.9M-1.6,0H1.6"/></g></g></g>
<g class="w"><g class="r" transform="translate(570,1250) rotate(-45)"><text x="7.3 15.06 21.15 27.24 33.33 36.1 42.2" y="2.8">Gunning</text></g></g>
<g class="w"><g class="r" transform="translate(530,1250) rotate(-45)"><text x="14.3 20.95 26.49 32.04 37.58 40.35 45.89 51.99 58.08 63.62 66.94 69.71 75.8" y="2.8">Yass Junction</text><g class="h" transform="translate(89.8966,-0.6)"><ellipse rx="4.25" ry="4.8"/><path d="M-1.6,-2.9V2.9M1.6,-2.9V2.9M-1.6,0H1.6"/></g></g></g>
<text x="432.92 439.57 445.11 450.65 456.2 458.97 465.06 471.15 478.91" y="1282.8">Yass Town</text>
<text x="618 624.09 629.63 633.51 639.06 645.15" y="1302.8">Tarago</text>
<text x="618 625.2 631.29 637.38 643.47 649.02 655.11 661.2 667.29 671.17" y="1332.8">Bungendore</text>
<text x="625 632.76 638.85 644.39 649.93 656.03 662.12 667.66 673.2 678.75" y="1362.8">Queanbeyan</text><g class="h" transform="translate(692.84,1359.4)"><ellipse rx="4.25" ry="4.8"/><path d="M-1.6,-2.9V2.9M1.6,-2.9V2.9M-1.6,0H1.6"/></g>
<text x="608 614.65 620.19 625.74 628.51 636.26 639.04 644.58" y="1392.8">Pyalwick</text>
<text x="578 585.2 587.97 594.06 600.15 605.7 609.02 615.11" y="1422.8">Kingston</text>
<text x="555 562.2 567.74 573.83 579.93 585.47 589.35 593.22" y="1452.8">Canberra</text><g class="h" transform="translate(606.768,1449.4)"><ellipse rx="4.25" ry="4.8"/><path d="M-1.6,-2.9V2.9M1.6,-2.9V2.9M-1.6,0H1.6"/></g>
<text x="966.57 972.66 978.75 981.52 985.4 988.17 997.04 1002.58 1006.46" y="972.8">Thirlmere</text>
<text x="945.47 952.67 958.76 964.85 968.73 971.5 977.59 980.37 985.91" y="992.8">Couridjah</text>
<text x="937.66 944.86 950.95 956.5 959.82 965.91" y="1012.8">Buxton</text>
<text x="909.34 916.54 922.08 924.85 933.72 939.81 943.69 949.23" y="1032.8">Balmoral</text>
<text x="895.44 902.64 905.41 908.18 910.95 913.72 919.82 925.91" y="1052.8">Hill Top</text>
<text x="866.57 873.77 879.86 882.63 888.72 891.49 898.14 903.69 906.46" y="1072.8">Colo Vale</text>
<text x="871.55 878.75 882.63 888.17 893.72 902.58 908.12" y="1102.8">Braemar</text>
<text x="1108 1117.41 1120.18 1122.96 1126.28 1132.37" y="1052.8">Wilton</text>
<g class="w"><g class="r" transform="translate(940,1240) rotate(-45)"><text x="7.3 14.5 20.59 24.47 28.35 33.89 41.65 47.19 53.28" y="2.8">Burrawang</text></g></g>
<g class="w"><g class="r" transform="translate(960,1260) rotate(-45)"><text x="7.3 14.5 20.59 26.68 32.23 36.1 39.42 44.97 51.06" y="2.8">Robertson</text></g></g>
</g>
</svg></body></html>
